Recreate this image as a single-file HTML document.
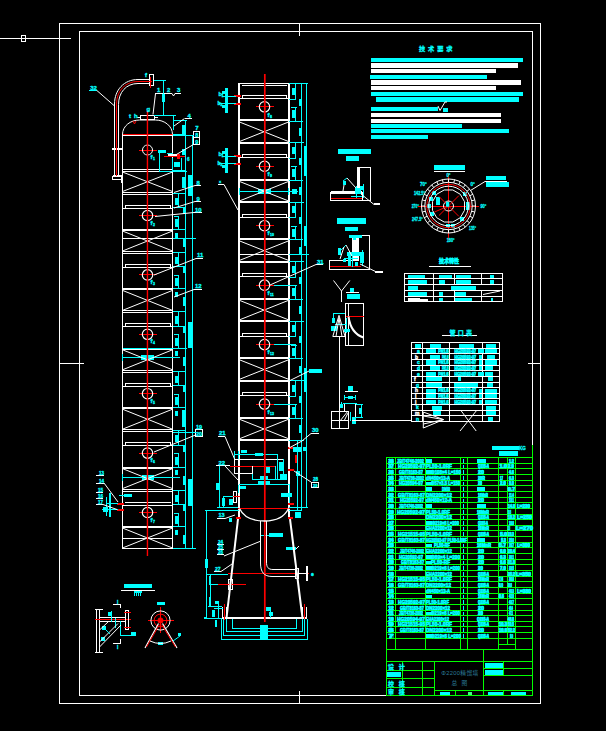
<!DOCTYPE html>
<html><head><meta charset="utf-8"><title>Φ2200精馏塔 总图</title>
<style>
html,body{margin:0;padding:0;background:#000;}
body{width:606px;height:731px;overflow:hidden;}
svg{display:block;font-family:"Liberation Sans","Noto Sans CJK SC",sans-serif;}
</style></head><body>
<svg width="606" height="731" viewBox="0 0 606 731">
<rect width="606" height="731" fill="#000"/>
<g shape-rendering="crispEdges" fill="none">
<rect x="59.5" y="23.5" width="481" height="680" fill="none" stroke="#ffffff" stroke-width="1"/>
<rect x="79.5" y="31.5" width="453" height="664" fill="none" stroke="#ffffff" stroke-width="1"/>
<path d="M299.5 23V36" stroke="#ffffff" stroke-width="1"/>
<path d="M299.5 691V704" stroke="#ffffff" stroke-width="1"/>
<path d="M59 363.5H84" stroke="#ffffff" stroke-width="1"/>
<path d="M528 363.5H541" stroke="#ffffff" stroke-width="1"/>
<path d="M0 38.5H71" stroke="#ffffff" stroke-width="1"/>
<rect x="21.5" y="35.5" width="4" height="6" fill="none" stroke="#ffffff" stroke-width="1"/>
<path d="M122.5 134V549" stroke="#ffffff" stroke-width="1"/>
<path d="M172.5 134V549" stroke="#ffffff" stroke-width="1"/>
<path d="M122.5 134.5H172.5" stroke="#ff0000" stroke-width="1"/>
<rect x="140.5" y="115.5" width="14" height="4" fill="none" stroke="#ffffff" stroke-width="1"/>
<path d="M137 117.5H140" stroke="#ffffff" stroke-width="1"/>
<path d="M155 117.5H158" stroke="#ffffff" stroke-width="1"/>
<path d="M138.5 150.5H156.5" stroke="#ff0000" stroke-width="1"/>
<path d="M122.5 169.5H172.5" stroke="#ffffff" stroke-width="1"/>
<path d="M122.5 171.5H172.5" stroke="#ffffff" stroke-width="1"/>
<path d="M122.5 135.5H172.5" stroke="#ffffff" stroke-width="1"/>
<path d="M122.5 192.5H172.5" stroke="#ffffff" stroke-width="1"/>
<path d="M123 194.5H172" stroke="#ffffff" stroke-width="1"/>
<path d="M124.5 205.5H170.5" stroke="#ffffff" stroke-width="1"/>
<path d="M125.5 205V208" stroke="#ffffff" stroke-width="1"/>
<path d="M170.5 205V208" stroke="#ffffff" stroke-width="1"/>
<path d="M122.5 208.5H172.5" stroke="#ffffff" stroke-width="1"/>
<path d="M138.5 215.5H156.5" stroke="#ff0000" stroke-width="1"/>
<path d="M122.5 230H172.5" stroke="#ffffff" stroke-width="2"/>
<path d="M122.5 251.5H172.5" stroke="#ffffff" stroke-width="1"/>
<path d="M123 253.5H172" stroke="#ffffff" stroke-width="1"/>
<path d="M124.5 264.5H170.5" stroke="#ffffff" stroke-width="1"/>
<path d="M125.5 264.4V267.4" stroke="#ffffff" stroke-width="1"/>
<path d="M170.5 264.4V267.4" stroke="#ffffff" stroke-width="1"/>
<path d="M122.5 267.5H172.5" stroke="#ffffff" stroke-width="1"/>
<path d="M138.5 274.5H156.5" stroke="#ff0000" stroke-width="1"/>
<path d="M122.5 289H172.5" stroke="#ffffff" stroke-width="2"/>
<path d="M122.5 310.5H172.5" stroke="#ffffff" stroke-width="1"/>
<path d="M123 312.5H172" stroke="#ffffff" stroke-width="1"/>
<path d="M124.5 323.5H170.5" stroke="#ffffff" stroke-width="1"/>
<path d="M125.5 323.8V326.8" stroke="#ffffff" stroke-width="1"/>
<path d="M170.5 323.8V326.8" stroke="#ffffff" stroke-width="1"/>
<path d="M122.5 326.5H172.5" stroke="#ffffff" stroke-width="1"/>
<path d="M138.5 334.5H156.5" stroke="#ff0000" stroke-width="1"/>
<path d="M122.5 349H172.5" stroke="#ffffff" stroke-width="2"/>
<path d="M122.5 370.5H172.5" stroke="#ffffff" stroke-width="1"/>
<path d="M123 372.5H172" stroke="#ffffff" stroke-width="1"/>
<path d="M124.5 383.5H170.5" stroke="#ffffff" stroke-width="1"/>
<path d="M125.5 383.2V386.2" stroke="#ffffff" stroke-width="1"/>
<path d="M170.5 383.2V386.2" stroke="#ffffff" stroke-width="1"/>
<path d="M122.5 386.5H172.5" stroke="#ffffff" stroke-width="1"/>
<path d="M138.5 393.5H156.5" stroke="#ff0000" stroke-width="1"/>
<path d="M122.5 408H172.5" stroke="#ffffff" stroke-width="2"/>
<path d="M122.5 429.5H172.5" stroke="#ffffff" stroke-width="1"/>
<path d="M123 431.5H172" stroke="#ffffff" stroke-width="1"/>
<path d="M124.5 442.5H170.5" stroke="#ffffff" stroke-width="1"/>
<path d="M125.5 442.6V445.6" stroke="#ffffff" stroke-width="1"/>
<path d="M170.5 442.6V445.6" stroke="#ffffff" stroke-width="1"/>
<path d="M122.5 445.5H172.5" stroke="#ffffff" stroke-width="1"/>
<path d="M138.5 453.5H156.5" stroke="#ff0000" stroke-width="1"/>
<path d="M122.5 468H172.5" stroke="#ffffff" stroke-width="2"/>
<path d="M122.5 489.5H172.5" stroke="#ffffff" stroke-width="1"/>
<path d="M123 491.5H172" stroke="#ffffff" stroke-width="1"/>
<path d="M124.5 502.5H170.5" stroke="#ffffff" stroke-width="1"/>
<path d="M122.5 505.5H172.5" stroke="#ffffff" stroke-width="1"/>
<path d="M138.5 512.5H156.5" stroke="#ff0000" stroke-width="1"/>
<path d="M122.5 526.5H172.5" stroke="#ffffff" stroke-width="1"/>
<path d="M122.5 527.5H172.5" stroke="#ffffff" stroke-width="1"/>
<path d="M122.5 538.5H172.5" stroke="#ffffff" stroke-width="1"/>
<path d="M122.5 548.5H172.5" stroke="#ffffff" stroke-width="1"/>
<path d="M122.5 238.5H172.5" stroke="#ffffff" stroke-width="1"/>
<rect x="149.5" y="74.5" width="4" height="11" fill="none" stroke="#ffffff" stroke-width="1"/>
<path d="M150.5 77V88" stroke="#ff0000" stroke-width="1"/>
<rect x="112.5" y="176.5" width="9" height="3" fill="none" stroke="#ffffff" stroke-width="1"/>
<path d="M113 175.5H121" stroke="#ffffff" stroke-width="1"/>
<path d="M122 175V183" stroke="#ffffff" stroke-width="2"/>
<path d="M112 149H123" stroke="#ffffff" stroke-width="2"/>
<path d="M167.5 155H179.5" stroke="#ffffff" stroke-width="1.5"/>
<path d="M164 156.5H186" stroke="#ff0000" stroke-width="1"/>
<rect x="177" y="153.6" width="3" height="5.1" fill="#ff0000"/>
<path d="M167 153.5H173" stroke="#00ffff" stroke-width="1"/>
<rect x="158" y="150" width="8" height="3" fill="#00ffff"/>
<path d="M172.5 158V172" stroke="#00ffff" stroke-width="1"/>
<path d="M181.5 158V172" stroke="#00ffff" stroke-width="1"/>
<rect x="173.5" y="162.3" width="6.5" height="4.7" fill="#00ffff"/>
<path d="M159 171.5H187" stroke="#00ffff" stroke-width="1"/>
<path d="M159.5 153V172" stroke="#00ffff" stroke-width="1"/>
<path d="M89 90.5H97" stroke="#00ffff" stroke-width="1"/>
<path d="M155 93.5H172" stroke="#ffffff" stroke-width="1"/>
<path d="M175 93.5H181" stroke="#ffffff" stroke-width="1"/>
<path d="M184.5 118.5H192" stroke="#ffffff" stroke-width="1"/>
<path d="M193 137.5H200" stroke="#ffffff" stroke-width="1"/>
<rect x="193.5" y="131.5" width="6" height="13" fill="none" stroke="#ffffff" stroke-width="1"/>
<path d="M195 185.5H201" stroke="#ffffff" stroke-width="1"/>
<path d="M195 201.5H201" stroke="#ffffff" stroke-width="1"/>
<path d="M194 212.5H202" stroke="#ffffff" stroke-width="1"/>
<path d="M196 258.5H203" stroke="#ffffff" stroke-width="1"/>
<path d="M194 289.5H202" stroke="#ffffff" stroke-width="1"/>
<rect x="195.5" y="429.5" width="7" height="7" fill="none" stroke="#ffffff" stroke-width="1"/>
<path d="M185.5 120V549" stroke="#00ffff" stroke-width="1"/>
<path d="M192.5 135V549" stroke="#00ffff" stroke-width="1"/>
<path d="M172.5 548.5H196" stroke="#00ffff" stroke-width="1"/>
<path d="M154 115.5H176" stroke="#00ffff" stroke-width="1"/>
<path d="M163.5 80V115" stroke="#00ffff" stroke-width="1"/>
<path d="M173 120.5H187" stroke="#00ffff" stroke-width="1"/>
<path d="M173 135.5H194" stroke="#00ffff" stroke-width="1"/>
<path d="M154 80.5H166" stroke="#00ffff" stroke-width="1"/>
<rect x="161.5" y="94" width="3" height="8" fill="#00ffff"/>
<path d="M173.5 115V130" stroke="#00ffff" stroke-width="1"/>
<path d="M172.5 134.5H186" stroke="#00ffff" stroke-width="1"/>
<path d="M172.5 170.5H186" stroke="#00ffff" stroke-width="1"/>
<path d="M172.5 193.5H186" stroke="#00ffff" stroke-width="1"/>
<path d="M172.5 207.5H186" stroke="#00ffff" stroke-width="1"/>
<path d="M172.5 229.5H186" stroke="#00ffff" stroke-width="1"/>
<path d="M172.5 252.5H186" stroke="#00ffff" stroke-width="1"/>
<path d="M172.5 266.5H186" stroke="#00ffff" stroke-width="1"/>
<path d="M172.5 288.5H186" stroke="#00ffff" stroke-width="1"/>
<path d="M172.5 311.5H186" stroke="#00ffff" stroke-width="1"/>
<path d="M172.5 326.5H186" stroke="#00ffff" stroke-width="1"/>
<path d="M172.5 348.5H186" stroke="#00ffff" stroke-width="1"/>
<path d="M172.5 371.5H186" stroke="#00ffff" stroke-width="1"/>
<path d="M172.5 385.5H186" stroke="#00ffff" stroke-width="1"/>
<path d="M172.5 407.5H186" stroke="#00ffff" stroke-width="1"/>
<path d="M172.5 430.5H186" stroke="#00ffff" stroke-width="1"/>
<path d="M172.5 445.5H186" stroke="#00ffff" stroke-width="1"/>
<path d="M172.5 467.5H186" stroke="#00ffff" stroke-width="1"/>
<path d="M172.5 490.5H186" stroke="#00ffff" stroke-width="1"/>
<path d="M172.5 504.5H186" stroke="#00ffff" stroke-width="1"/>
<path d="M172.5 526.5H186" stroke="#00ffff" stroke-width="1"/>
<rect x="175" y="197.5" width="3" height="7.2" fill="#00ffff"/>
<path d="M178.5 193V207.5" stroke="#00ffff" stroke-width="1"/>
<path d="M174 216.5H179" stroke="#00ffff" stroke-width="1"/>
<path d="M178.5 216V230" stroke="#00ffff" stroke-width="1"/>
<rect x="175" y="219" width="3" height="8" fill="#00ffff"/>
<rect x="175" y="232.5" width="3" height="5" fill="#00ffff"/>
<rect x="182.5" y="238" width="3" height="9" fill="#00ffff"/>
<rect x="182.5" y="208" width="3" height="6" fill="#00ffff"/>
<rect x="175" y="256.9" width="3" height="7.2" fill="#00ffff"/>
<path d="M178.5 252.4V266.9" stroke="#00ffff" stroke-width="1"/>
<path d="M174 275.5H179" stroke="#00ffff" stroke-width="1"/>
<path d="M178.5 275.4V289.4" stroke="#00ffff" stroke-width="1"/>
<rect x="175" y="278.4" width="3" height="8" fill="#00ffff"/>
<rect x="175" y="291.9" width="3" height="5" fill="#00ffff"/>
<rect x="182.5" y="297.4" width="3" height="9" fill="#00ffff"/>
<rect x="182.5" y="267.4" width="3" height="6" fill="#00ffff"/>
<rect x="175" y="316.3" width="3" height="7.2" fill="#00ffff"/>
<path d="M178.5 311.8V326.3" stroke="#00ffff" stroke-width="1"/>
<path d="M174 334.5H179" stroke="#00ffff" stroke-width="1"/>
<path d="M178.5 334.8V348.8" stroke="#00ffff" stroke-width="1"/>
<rect x="175" y="337.8" width="3" height="8" fill="#00ffff"/>
<rect x="175" y="351.3" width="3" height="5" fill="#00ffff"/>
<rect x="182.5" y="356.8" width="3" height="9" fill="#00ffff"/>
<rect x="182.5" y="326.8" width="3" height="6" fill="#00ffff"/>
<rect x="175" y="375.7" width="3" height="7.2" fill="#00ffff"/>
<path d="M178.5 371.2V385.7" stroke="#00ffff" stroke-width="1"/>
<path d="M174 394.5H179" stroke="#00ffff" stroke-width="1"/>
<path d="M178.5 394.2V408.2" stroke="#00ffff" stroke-width="1"/>
<rect x="175" y="397.2" width="3" height="8" fill="#00ffff"/>
<rect x="175" y="410.7" width="3" height="5" fill="#00ffff"/>
<rect x="182.5" y="416.2" width="3" height="9" fill="#00ffff"/>
<rect x="182.5" y="386.2" width="3" height="6" fill="#00ffff"/>
<rect x="175" y="435.1" width="3" height="7.2" fill="#00ffff"/>
<path d="M178.5 430.6V445.1" stroke="#00ffff" stroke-width="1"/>
<path d="M174 453.5H179" stroke="#00ffff" stroke-width="1"/>
<path d="M178.5 453.6V467.6" stroke="#00ffff" stroke-width="1"/>
<rect x="175" y="456.6" width="3" height="8" fill="#00ffff"/>
<rect x="175" y="470.1" width="3" height="5" fill="#00ffff"/>
<rect x="182.5" y="475.6" width="3" height="9" fill="#00ffff"/>
<rect x="182.5" y="445.6" width="3" height="6" fill="#00ffff"/>
<rect x="175" y="494.5" width="3" height="7.2" fill="#00ffff"/>
<path d="M178.5 490V504.5" stroke="#00ffff" stroke-width="1"/>
<path d="M174 513.5H179" stroke="#00ffff" stroke-width="1"/>
<path d="M178.5 513V527" stroke="#00ffff" stroke-width="1"/>
<rect x="175" y="516" width="3" height="8" fill="#00ffff"/>
<rect x="175" y="529.5" width="3" height="5" fill="#00ffff"/>
<rect x="182.5" y="535" width="3" height="9" fill="#00ffff"/>
<rect x="182.5" y="505" width="3" height="6" fill="#00ffff"/>
<rect x="182" y="125" width="3" height="9.6" fill="#00ffff"/>
<rect x="182" y="149" width="3" height="6" fill="#00ffff"/>
<rect x="182" y="177" width="3" height="11" fill="#00ffff"/>
<rect x="188" y="174.6" width="4" height="13.4" fill="#00ffff"/>
<rect x="188" y="186" width="4.5" height="9.5" fill="#00ffff"/>
<rect x="188" y="322" width="4.5" height="26" fill="#00ffff"/>
<rect x="188" y="479" width="4.5" height="27" fill="#00ffff"/>
<rect x="181.5" y="410" width="4" height="16.7" fill="#00ffff"/>
<path d="M172.5 432.5H196" stroke="#00ffff" stroke-width="1"/>
<path d="M172.5 238.5H196" stroke="#00ffff" stroke-width="1"/>
<path d="M122 357.5H180" stroke="#00ffff" stroke-width="1"/>
<rect x="141" y="354.5" width="13" height="5" fill="#00ffff"/>
<path d="M122.5 354V361" stroke="#00ffff" stroke-width="1"/>
<path d="M122 477.5H180" stroke="#00ffff" stroke-width="1"/>
<rect x="142" y="475" width="12" height="5" fill="#00ffff"/>
<path d="M122.5 474V481" stroke="#00ffff" stroke-width="1"/>
<path d="M122.5 348.5H187" stroke="#00ffff" stroke-width="1"/>
<path d="M117 504H124" stroke="#ff0000" stroke-width="2"/>
<path d="M117 510H124" stroke="#ff0000" stroke-width="2"/>
<path d="M96 483.5H104" stroke="#ffffff" stroke-width="1"/>
<path d="M96 475.5H104" stroke="#ffffff" stroke-width="1"/>
<path d="M96 492.5H103" stroke="#ffffff" stroke-width="1"/>
<path d="M96 498.5H103" stroke="#ffffff" stroke-width="1"/>
<path d="M96 504.5H103" stroke="#ffffff" stroke-width="1"/>
<rect x="108.5" y="493" width="2.5" height="24" fill="#00ffff"/>
<path d="M106 503.5H118" stroke="#00ffff" stroke-width="1"/>
<path d="M102 509.5H118" stroke="#00ffff" stroke-width="1"/>
<rect x="103" y="507" width="5" height="5" fill="#00ffff"/>
<path d="M119 495.5H131" stroke="#00ffff" stroke-width="1"/>
<rect x="124" y="493.5" width="7.5" height="3.5" fill="#00ffff"/>
<path d="M106.5 497V516" stroke="#00ffff" stroke-width="1"/>
<path d="M239 83V519" stroke="#ffffff" stroke-width="2"/>
<path d="M289 83V519" stroke="#ffffff" stroke-width="2"/>
<path d="M238.5 83.5H290" stroke="#ffffff" stroke-width="1"/>
<path d="M241.5 85.5H286.5" stroke="#ffffff" stroke-width="1"/>
<path d="M241.5 95.5H286.5" stroke="#ffffff" stroke-width="1"/>
<path d="M242.5 95.5V98.5" stroke="#ffffff" stroke-width="1"/>
<path d="M286.5 95.5V98.5" stroke="#ffffff" stroke-width="1"/>
<path d="M239.5 98.5H288.5" stroke="#ffffff" stroke-width="1"/>
<path d="M255.5 106.5H273.5" stroke="#ff0000" stroke-width="1"/>
<path d="M239.5 120H288.5" stroke="#ffffff" stroke-width="2"/>
<path d="M239.5 143H288.5" stroke="#ffffff" stroke-width="2"/>
<path d="M241.5 154.5H286.5" stroke="#ffffff" stroke-width="1"/>
<path d="M242.5 154.95V157.95" stroke="#ffffff" stroke-width="1"/>
<path d="M286.5 154.95V157.95" stroke="#ffffff" stroke-width="1"/>
<path d="M239.5 157.5H288.5" stroke="#ffffff" stroke-width="1"/>
<path d="M255.5 166.5H273.5" stroke="#ff0000" stroke-width="1"/>
<path d="M239.5 180H288.5" stroke="#ffffff" stroke-width="2"/>
<path d="M239.5 202H288.5" stroke="#ffffff" stroke-width="2"/>
<path d="M241.5 214.5H286.5" stroke="#ffffff" stroke-width="1"/>
<path d="M242.5 214.4V217.4" stroke="#ffffff" stroke-width="1"/>
<path d="M286.5 214.4V217.4" stroke="#ffffff" stroke-width="1"/>
<path d="M239.5 217.5H288.5" stroke="#ffffff" stroke-width="1"/>
<path d="M255.5 225.5H273.5" stroke="#ff0000" stroke-width="1"/>
<path d="M239.5 239H288.5" stroke="#ffffff" stroke-width="2"/>
<path d="M239.5 262H288.5" stroke="#ffffff" stroke-width="2"/>
<path d="M241.5 273.5H286.5" stroke="#ffffff" stroke-width="1"/>
<path d="M242.5 273.85V276.85" stroke="#ffffff" stroke-width="1"/>
<path d="M286.5 273.85V276.85" stroke="#ffffff" stroke-width="1"/>
<path d="M239.5 276.5H288.5" stroke="#ffffff" stroke-width="1"/>
<path d="M255.5 285.5H273.5" stroke="#ff0000" stroke-width="1"/>
<path d="M239.5 299H288.5" stroke="#ffffff" stroke-width="2"/>
<path d="M239.5 321H288.5" stroke="#ffffff" stroke-width="2"/>
<path d="M241.5 333.5H286.5" stroke="#ffffff" stroke-width="1"/>
<path d="M242.5 333.3V336.3" stroke="#ffffff" stroke-width="1"/>
<path d="M286.5 333.3V336.3" stroke="#ffffff" stroke-width="1"/>
<path d="M239.5 336.5H288.5" stroke="#ffffff" stroke-width="1"/>
<path d="M255.5 344.5H273.5" stroke="#ff0000" stroke-width="1"/>
<path d="M239.5 358H288.5" stroke="#ffffff" stroke-width="2"/>
<path d="M239.5 381H288.5" stroke="#ffffff" stroke-width="2"/>
<path d="M241.5 392.5H286.5" stroke="#ffffff" stroke-width="1"/>
<path d="M242.5 392.75V395.75" stroke="#ffffff" stroke-width="1"/>
<path d="M286.5 392.75V395.75" stroke="#ffffff" stroke-width="1"/>
<path d="M239.5 395.5H288.5" stroke="#ffffff" stroke-width="1"/>
<path d="M255.5 404.5H273.5" stroke="#ff0000" stroke-width="1"/>
<path d="M239.5 418H288.5" stroke="#ffffff" stroke-width="2"/>
<path d="M239.5 440H288.5" stroke="#ffffff" stroke-width="2"/>
<path d="M239.5 254.5H288.5" stroke="#ffffff" stroke-width="1"/>
<path d="M234 96H241" stroke="#ff0000" stroke-width="2"/>
<path d="M234 104H241" stroke="#ff0000" stroke-width="2"/>
<path d="M234 156H241" stroke="#ff0000" stroke-width="2"/>
<path d="M234 164H241" stroke="#ff0000" stroke-width="2"/>
<rect x="225" y="88" width="3" height="25" fill="#00ffff"/>
<path d="M222 96.5H236" stroke="#00ffff" stroke-width="1"/>
<path d="M219 103.5H236" stroke="#00ffff" stroke-width="1"/>
<rect x="221.5" y="91" width="3.5" height="3" fill="#00ffff"/>
<rect x="221.5" y="105" width="3.5" height="3" fill="#00ffff"/>
<rect x="225" y="148" width="3" height="25" fill="#00ffff"/>
<path d="M222 156.5H236" stroke="#00ffff" stroke-width="1"/>
<path d="M219 163.5H236" stroke="#00ffff" stroke-width="1"/>
<rect x="221.5" y="151" width="3.5" height="3" fill="#00ffff"/>
<rect x="221.5" y="165" width="3.5" height="3" fill="#00ffff"/>
<path d="M218 184.5H224" stroke="#ffffff" stroke-width="1"/>
<path d="M301.5 83V510" stroke="#00ffff" stroke-width="1"/>
<path d="M306.5 83V508" stroke="#00ffff" stroke-width="1"/>
<path d="M289 507.5H308" stroke="#00ffff" stroke-width="1"/>
<path d="M288.5 83.5H308" stroke="#00ffff" stroke-width="1"/>
<path d="M288.5 83.5H304" stroke="#00ffff" stroke-width="1"/>
<path d="M288.5 99.5H296" stroke="#00ffff" stroke-width="1"/>
<path d="M288.5 121.5H303" stroke="#00ffff" stroke-width="1"/>
<path d="M291 107.5H297" stroke="#00ffff" stroke-width="1"/>
<rect x="292" y="87.5" width="2.6" height="7" fill="#00ffff"/>
<path d="M295.5 83.5V99" stroke="#00ffff" stroke-width="1"/>
<rect x="292" y="110" width="2.6" height="8" fill="#00ffff"/>
<path d="M295.5 107.5V121" stroke="#00ffff" stroke-width="1"/>
<rect x="299" y="98.5" width="2.5" height="7" fill="#00ffff"/>
<rect x="299" y="128" width="2.5" height="7.5" fill="#00ffff"/>
<path d="M288.5 142.5H304" stroke="#00ffff" stroke-width="1"/>
<path d="M288.5 158.5H296" stroke="#00ffff" stroke-width="1"/>
<path d="M288.5 180.5H303" stroke="#00ffff" stroke-width="1"/>
<path d="M291 166.5H297" stroke="#00ffff" stroke-width="1"/>
<rect x="292" y="146.95" width="2.6" height="7" fill="#00ffff"/>
<path d="M295.5 142.95V158.45" stroke="#00ffff" stroke-width="1"/>
<rect x="292" y="169.45" width="2.6" height="8" fill="#00ffff"/>
<path d="M295.5 166.95V180.45" stroke="#00ffff" stroke-width="1"/>
<rect x="299" y="157.95" width="2.5" height="7" fill="#00ffff"/>
<rect x="299" y="187.45" width="2.5" height="7.5" fill="#00ffff"/>
<path d="M288.5 202.5H304" stroke="#00ffff" stroke-width="1"/>
<path d="M288.5 217.5H296" stroke="#00ffff" stroke-width="1"/>
<path d="M288.5 239.5H303" stroke="#00ffff" stroke-width="1"/>
<path d="M291 226.5H297" stroke="#00ffff" stroke-width="1"/>
<rect x="292" y="206.4" width="2.6" height="7" fill="#00ffff"/>
<path d="M295.5 202.4V217.9" stroke="#00ffff" stroke-width="1"/>
<rect x="292" y="228.9" width="2.6" height="8" fill="#00ffff"/>
<path d="M295.5 226.4V239.9" stroke="#00ffff" stroke-width="1"/>
<rect x="299" y="217.4" width="2.5" height="7" fill="#00ffff"/>
<rect x="299" y="246.9" width="2.5" height="7.5" fill="#00ffff"/>
<path d="M288.5 261.5H304" stroke="#00ffff" stroke-width="1"/>
<path d="M288.5 277.5H296" stroke="#00ffff" stroke-width="1"/>
<path d="M288.5 299.5H303" stroke="#00ffff" stroke-width="1"/>
<path d="M291 285.5H297" stroke="#00ffff" stroke-width="1"/>
<rect x="292" y="265.85" width="2.6" height="7" fill="#00ffff"/>
<path d="M295.5 261.85V277.35" stroke="#00ffff" stroke-width="1"/>
<rect x="292" y="288.35" width="2.6" height="8" fill="#00ffff"/>
<path d="M295.5 285.85V299.35" stroke="#00ffff" stroke-width="1"/>
<rect x="299" y="276.85" width="2.5" height="7" fill="#00ffff"/>
<rect x="299" y="306.35" width="2.5" height="7.5" fill="#00ffff"/>
<path d="M288.5 321.5H304" stroke="#00ffff" stroke-width="1"/>
<path d="M288.5 336.5H296" stroke="#00ffff" stroke-width="1"/>
<path d="M288.5 358.5H303" stroke="#00ffff" stroke-width="1"/>
<path d="M291 345.5H297" stroke="#00ffff" stroke-width="1"/>
<rect x="292" y="325.3" width="2.6" height="7" fill="#00ffff"/>
<path d="M295.5 321.3V336.8" stroke="#00ffff" stroke-width="1"/>
<rect x="292" y="347.8" width="2.6" height="8" fill="#00ffff"/>
<path d="M295.5 345.3V358.8" stroke="#00ffff" stroke-width="1"/>
<rect x="299" y="336.3" width="2.5" height="7" fill="#00ffff"/>
<rect x="299" y="365.8" width="2.5" height="7.5" fill="#00ffff"/>
<path d="M288.5 380.5H304" stroke="#00ffff" stroke-width="1"/>
<path d="M288.5 396.5H296" stroke="#00ffff" stroke-width="1"/>
<path d="M288.5 418.5H303" stroke="#00ffff" stroke-width="1"/>
<path d="M291 404.5H297" stroke="#00ffff" stroke-width="1"/>
<rect x="292" y="384.75" width="2.6" height="7" fill="#00ffff"/>
<path d="M295.5 380.75V396.25" stroke="#00ffff" stroke-width="1"/>
<rect x="292" y="407.25" width="2.6" height="8" fill="#00ffff"/>
<path d="M295.5 404.75V418.25" stroke="#00ffff" stroke-width="1"/>
<rect x="299" y="395.75" width="2.5" height="7" fill="#00ffff"/>
<rect x="299" y="425.25" width="2.5" height="7.5" fill="#00ffff"/>
<path d="M288.5 440.5H304" stroke="#00ffff" stroke-width="1"/>
<path d="M288.5 254.5H309" stroke="#00ffff" stroke-width="1"/>
<path d="M273.5 285.5H296" stroke="#00ffff" stroke-width="1"/>
<path d="M273.5 344.5H296" stroke="#00ffff" stroke-width="1"/>
<path d="M273.5 404.5H296" stroke="#00ffff" stroke-width="1"/>
<rect x="303.5" y="368" width="3" height="23.5" fill="#00ffff"/>
<path d="M239 191.5H298" stroke="#00ffff" stroke-width="1"/>
<rect x="258" y="189" width="13" height="4.5" fill="#00ffff"/>
<rect x="292" y="189" width="5" height="4.5" fill="#00ffff"/>
<path d="M239.5 188V195" stroke="#00ffff" stroke-width="1"/>
<path d="M288.5 188V195" stroke="#00ffff" stroke-width="1"/>
<rect x="303.5" y="146" width="3.5" height="30" fill="#00ffff"/>
<rect x="303.5" y="226" width="3.5" height="20" fill="#00ffff"/>
<rect x="309" y="368.5" width="13" height="4" fill="#00ffff"/>
<path d="M316 264.5H323" stroke="#ffffff" stroke-width="1"/>
<path d="M311 433.5H319" stroke="#ffffff" stroke-width="1"/>
<path d="M218 436.5H225" stroke="#ffffff" stroke-width="1"/>
<path d="M216 465.5H230" stroke="#ffffff" stroke-width="1"/>
<path d="M238 508.5H290" stroke="#ff0000" stroke-width="1"/>
<path d="M235 454.5H278" stroke="#00ffff" stroke-width="1"/>
<rect x="255" y="452.5" width="8" height="3" fill="#00ffff"/>
<rect x="240.5" y="450" width="6" height="3.3" fill="#00ffff"/>
<path d="M234.5 451V460" stroke="#00ffff" stroke-width="1"/>
<path d="M238.5 451V460" stroke="#00ffff" stroke-width="1"/>
<path d="M235 459.5H284" stroke="#ffffff" stroke-width="1"/>
<path d="M234.5 459V474" stroke="#ffffff" stroke-width="1"/>
<path d="M230 466.5H275" stroke="#ff0000" stroke-width="1"/>
<path d="M235 473.5H252" stroke="#ffffff" stroke-width="1"/>
<path d="M252.5 466V474" stroke="#ffffff" stroke-width="1"/>
<path d="M252.5 474V480" stroke="#00ffff" stroke-width="1"/>
<path d="M252 479.5H287" stroke="#00ffff" stroke-width="1"/>
<rect x="260" y="476" width="7.7" height="3.2" fill="#00ffff"/>
<path d="M277.5 455V480" stroke="#00ffff" stroke-width="1"/>
<path d="M275.5 466V480" stroke="#00ffff" stroke-width="1"/>
<path d="M283.5 459V480" stroke="#00ffff" stroke-width="1"/>
<rect x="266" y="467.4" width="4" height="5.6" fill="#00ffff"/>
<rect x="278.7" y="462" width="3.9" height="8.6" fill="#00ffff"/>
<rect x="280" y="473.7" width="6.5" height="5.5" fill="#00ffff"/>
<path d="M239 484.5H290" stroke="#00ffff" stroke-width="1"/>
<rect x="258.3" y="481.2" width="11.7" height="3.2" fill="#00ffff"/>
<path d="M219.5 466V508" stroke="#00ffff" stroke-width="1"/>
<rect x="216.3" y="483" width="2.7" height="7" fill="#00ffff"/>
<path d="M217 507.5H238" stroke="#00ffff" stroke-width="1"/>
<rect x="233.5" y="491.5" width="3" height="11" fill="none" stroke="#ffffff" stroke-width="1"/>
<path d="M233 496.5H240" stroke="#ff0000" stroke-width="1"/>
<path d="M224 496.5H233" stroke="#00ffff" stroke-width="1"/>
<path d="M223.5 496V508" stroke="#00ffff" stroke-width="1"/>
<rect x="222" y="498" width="3" height="7.8" fill="#00ffff"/>
<rect x="229.3" y="498.8" width="3.5" height="6.2" fill="#00ffff"/>
<path d="M238.5 485V493" stroke="#00ffff" stroke-width="1"/>
<rect x="240.3" y="486" width="5.7" height="3.4" fill="#00ffff"/>
<path d="M205 510.5H239" stroke="#00ffff" stroke-width="1"/>
<path d="M288 448H294" stroke="#ff0000" stroke-width="2"/>
<path d="M288 470H294" stroke="#ff0000" stroke-width="2"/>
<path d="M288 504H294" stroke="#ff0000" stroke-width="2"/>
<rect x="295.4" y="455" width="2.4" height="7.5" fill="#ff0000"/>
<rect x="293" y="447" width="8" height="5" fill="#00ffff"/>
<rect x="303" y="447" width="4" height="4" fill="#00ffff"/>
<path d="M297.5 441V510" stroke="#00ffff" stroke-width="1"/>
<path d="M289 510.5H302" stroke="#00ffff" stroke-width="1"/>
<rect x="296" y="471" width="4" height="5" fill="#00ffff"/>
<rect x="281" y="493.3" width="11" height="3.9" fill="#00ffff"/>
<path d="M289.5 485V503" stroke="#00ffff" stroke-width="1"/>
<rect x="295" y="512" width="6" height="6" fill="#00ffff"/>
<rect x="311.5" y="482.5" width="7" height="5" fill="none" stroke="#ffffff" stroke-width="1"/>
<path d="M236 518H241" stroke="#ff0000" stroke-width="2"/>
<path d="M288 518H293" stroke="#ff0000" stroke-width="2"/>
<path d="M222 618H307" stroke="#ffffff" stroke-width="2"/>
<path d="M222.5 607V618" stroke="#ffffff" stroke-width="1"/>
<path d="M226.5 607V618" stroke="#ffffff" stroke-width="1"/>
<path d="M302.5 607V618" stroke="#ffffff" stroke-width="1"/>
<path d="M306.5 607V618" stroke="#ffffff" stroke-width="1"/>
<path d="M224.5 604V620" stroke="#ff0000" stroke-width="1"/>
<path d="M304.5 604V620" stroke="#ff0000" stroke-width="1"/>
<path d="M228 573.5H309" stroke="#ff0000" stroke-width="1"/>
<rect x="295.5" y="568.5" width="3" height="10" fill="none" stroke="#ffffff" stroke-width="1"/>
<rect x="305.5" y="566" width="2.5" height="15" fill="#ffffff"/>
<path d="M298 573.5H306" stroke="#ffffff" stroke-width="1"/>
<rect x="228.5" y="579.5" width="4" height="10" fill="none" stroke="#ffffff" stroke-width="1"/>
<path d="M218 584.5H246" stroke="#ff0000" stroke-width="1"/>
<path d="M209 584.5H218" stroke="#00ffff" stroke-width="1"/>
<path d="M217 518.5H225" stroke="#ffffff" stroke-width="1"/>
<path d="M217 544.5H224" stroke="#ffffff" stroke-width="1"/>
<path d="M217 549.5H224" stroke="#ffffff" stroke-width="1"/>
<path d="M217 554.5H224" stroke="#ffffff" stroke-width="1"/>
<path d="M214 571.5H221" stroke="#ffffff" stroke-width="1"/>
<path d="M206.5 510V619" stroke="#00ffff" stroke-width="1"/>
<path d="M205 510.5H238" stroke="#00ffff" stroke-width="1"/>
<path d="M205 618.5H222" stroke="#00ffff" stroke-width="1"/>
<rect x="204.5" y="559" width="3.5" height="9" fill="#00ffff"/>
<path d="M210.5 574V606" stroke="#00ffff" stroke-width="1"/>
<path d="M206 574.5H228" stroke="#00ffff" stroke-width="1"/>
<rect x="208.5" y="576" width="2.5" height="8" fill="#00ffff"/>
<rect x="208.5" y="597" width="2.5" height="9" fill="#00ffff"/>
<path d="M208 606.5H222" stroke="#00ffff" stroke-width="1"/>
<rect x="229.3" y="518.4" width="3.1" height="3.9" fill="#00ffff"/>
<path d="M261 535.5H270" stroke="#00ffff" stroke-width="1"/>
<rect x="269" y="532.5" width="14" height="4" fill="#00ffff"/>
<rect x="286" y="547" width="10" height="3" fill="#00ffff"/>
<path d="M221.5 619V628" stroke="#00ffff" stroke-width="1"/>
<path d="M223.5 619V628" stroke="#00ffff" stroke-width="1"/>
<path d="M226.5 619V628" stroke="#00ffff" stroke-width="1"/>
<path d="M232.5 619V628" stroke="#00ffff" stroke-width="1"/>
<path d="M296.5 619V628" stroke="#00ffff" stroke-width="1"/>
<path d="M302.5 619V628" stroke="#00ffff" stroke-width="1"/>
<path d="M304.5 619V628" stroke="#00ffff" stroke-width="1"/>
<path d="M307.5 619V628" stroke="#00ffff" stroke-width="1"/>
<path d="M232.5 619V628" stroke="#00ffff" stroke-width="1"/>
<path d="M296.5 619V628" stroke="#00ffff" stroke-width="1"/>
<path d="M232 628.5H297" stroke="#00ffff" stroke-width="1"/>
<path d="M226.5 619V632" stroke="#00ffff" stroke-width="1"/>
<path d="M302.5 619V632" stroke="#00ffff" stroke-width="1"/>
<path d="M226 631.5H303" stroke="#00ffff" stroke-width="1"/>
<path d="M223.5 619V635" stroke="#00ffff" stroke-width="1"/>
<path d="M304.5 619V635" stroke="#00ffff" stroke-width="1"/>
<path d="M223 635.5H305" stroke="#00ffff" stroke-width="1"/>
<path d="M221.5 619V639" stroke="#00ffff" stroke-width="1"/>
<path d="M307.5 619V639" stroke="#00ffff" stroke-width="1"/>
<path d="M221 639.5H308" stroke="#00ffff" stroke-width="1"/>
<rect x="260" y="624.5" width="8" height="14" fill="#00ffff"/>
<rect x="266" y="607" width="5" height="4" fill="#00ffff"/>
<path d="M270.5 607V618" stroke="#00ffff" stroke-width="1"/>
<rect x="269" y="612" width="4" height="4" fill="#00ffff"/>
<rect x="214.8" y="601" width="4" height="2.6" fill="#00ffff"/>
<path d="M218.5 603V618" stroke="#00ffff" stroke-width="1"/>
<path d="M213.5 608.5H223" stroke="#00ffff" stroke-width="1"/>
<rect x="212" y="609.5" width="2.8" height="7.3" fill="#00ffff"/>
<rect x="214.8" y="620" width="2" height="6.7" fill="#00ffff"/>
<rect x="124" y="584" width="28" height="3.8" fill="#00ffff"/>
<path d="M121 590.5H155" stroke="#ffffff" stroke-width="1"/>
<rect x="134" y="591" width="8" height="2" fill="#00ffff"/>
<path d="M134.5 593V596" stroke="#00ffff" stroke-width="1.2"/>
<path d="M136.5 593V596" stroke="#00ffff" stroke-width="1.2"/>
<path d="M138.5 593V596" stroke="#00ffff" stroke-width="1.2"/>
<path d="M140.5 593V596" stroke="#00ffff" stroke-width="1.2"/>
<path d="M96.5 609V653" stroke="#ffffff" stroke-width="1"/>
<path d="M99.5 609V653" stroke="#ffffff" stroke-width="1"/>
<path d="M95 609.5H103" stroke="#ffffff" stroke-width="1"/>
<path d="M95 652.5H103" stroke="#ffffff" stroke-width="1"/>
<path d="M99 617.5H126" stroke="#ffffff" stroke-width="1"/>
<path d="M99 621.5H126" stroke="#ffffff" stroke-width="1"/>
<path d="M95 619.5H131" stroke="#ff0000" stroke-width="1"/>
<rect x="125.5" y="610.5" width="3" height="19" fill="none" stroke="#ffffff" stroke-width="1"/>
<path d="M124 612.5H131" stroke="#ff0000" stroke-width="1"/>
<path d="M124 627.5H131" stroke="#ff0000" stroke-width="1"/>
<path d="M120.5 621V636" stroke="#00ffff" stroke-width="1"/>
<path d="M120 635.5H132" stroke="#00ffff" stroke-width="1"/>
<rect x="131" y="632" width="5" height="4" fill="#00ffff"/>
<path d="M111.5 611V622" stroke="#00ffff" stroke-width="1"/>
<rect x="108" y="612" width="3" height="4" fill="#00ffff"/>
<rect x="102" y="626" width="4" height="4" fill="#00ffff"/>
<rect x="101" y="637" width="4" height="4" fill="#00ffff"/>
<path d="M115.5 618V628" stroke="#00ffff" stroke-width="1"/>
<path d="M113 604.5H121" stroke="#ffffff" stroke-width="1"/>
<path d="M120.5 604V608" stroke="#ffffff" stroke-width="1"/>
<path d="M113 643.5H121" stroke="#ffffff" stroke-width="1"/>
<path d="M120.5 639V644" stroke="#ffffff" stroke-width="1"/>
<path d="M148 620.5H174" stroke="#ff0000" stroke-width="1"/>
<path d="M160.5 607V633" stroke="#ff0000" stroke-width="1"/>
<rect x="157.4" y="601.6" width="7.6" height="3.4" fill="#00ffff"/>
<rect x="158" y="642" width="5" height="2.5" fill="#00ffff"/>
<rect x="178" y="633" width="3" height="3" fill="#00ffff"/>
<rect x="204" y="617" width="2" height="2" fill="#00ffff"/>
<rect x="371" y="58" width="152" height="4" fill="#00ffff"/>
<rect x="371" y="63.3" width="147" height="4.4" fill="#ffffff"/>
<rect x="371" y="69.2" width="125" height="3.8" fill="#ffffff"/>
<rect x="370" y="74.8" width="117" height="4.2" fill="#00ffff"/>
<rect x="371" y="80.2" width="150" height="4.4" fill="#ffffff"/>
<rect x="371" y="86" width="125" height="4" fill="#ffffff"/>
<rect x="371" y="92" width="152" height="4" fill="#00ffff"/>
<rect x="376" y="97.2" width="143" height="4.3" fill="#00ffff"/>
<rect x="371" y="107" width="67" height="3.8" fill="#00ffff"/>
<rect x="371" y="112.8" width="130" height="4.5" fill="#ffffff"/>
<rect x="371" y="118.5" width="130" height="4.5" fill="#ffffff"/>
<rect x="371" y="123.9" width="91" height="3.9" fill="#00ffff"/>
<rect x="371" y="129.2" width="138" height="4" fill="#00ffff"/>
<rect x="371" y="134.9" width="57" height="3.9" fill="#00ffff"/>
<rect x="443" y="107.8" width="5" height="3.8" fill="#00ffff"/>
<rect x="338" y="148.8" width="33" height="4.9" fill="#00ffff"/>
<rect x="346" y="156" width="13" height="5" fill="#00ffff"/>
<rect x="356.5" y="167" width="3.3" height="25" fill="#ffffff"/>
<path d="M359.5 167.5L370.5 167.5L370.5 200.5L362 200.5" stroke="#ffffff" stroke-width="1" fill="none"/>
<rect x="330.5" y="191.3" width="31.5" height="2.5" fill="#ffffff"/>
<path d="M330.5 192L330.5 200.5L362 200.5L362 192" stroke="#ffffff" stroke-width="1" fill="none"/>
<path d="M331 198.5H362" stroke="#ff0000" stroke-width="1"/>
<path d="M374 204H380" stroke="#ffffff" stroke-width="2"/>
<rect x="343" y="181" width="3" height="4" fill="#00ffff"/>
<rect x="355" y="188" width="6" height="6" fill="#00ffff"/>
<rect x="360" y="186" width="4" height="4" fill="#00ffff"/>
<path d="M363.5 184V198" stroke="#00ffff" stroke-width="1"/>
<path d="M351 196.5H362" stroke="#00ffff" stroke-width="1"/>
<path d="M356.5 186V198" stroke="#00ffff" stroke-width="1"/>
<rect x="337" y="218" width="28.5" height="5.5" fill="#00ffff"/>
<rect x="345" y="227.2" width="13" height="3.6" fill="#00ffff"/>
<rect x="351.5" y="235.4" width="7.3" height="25.6" fill="#ffffff"/>
<path d="M358.5 235.5L369.5 235.5L369.5 269.5L361 269.5" stroke="#ffffff" stroke-width="1" fill="none"/>
<path d="M329.5 260.5L329.5 269.5L361 269.5" stroke="#ffffff" stroke-width="1" fill="none"/>
<path d="M329 260.5H352" stroke="#ffffff" stroke-width="1"/>
<path d="M330 266.5H361" stroke="#ff0000" stroke-width="1"/>
<path d="M375 272H383" stroke="#ffffff" stroke-width="2"/>
<rect x="349" y="235" width="13" height="2.5" fill="#00ffff"/>
<rect x="353" y="238" width="3" height="2" fill="#00ffff"/>
<rect x="338" y="248" width="3" height="7" fill="#00ffff"/>
<rect x="347" y="252" width="17" height="3.5" fill="#00ffff"/>
<rect x="360" y="256" width="4" height="7" fill="#00ffff"/>
<rect x="348" y="256" width="3" height="10" fill="#00ffff"/>
<path d="M352.5 255V267" stroke="#00ffff" stroke-width="1"/>
<path d="M344 258.5H358" stroke="#00ffff" stroke-width="1"/>
<rect x="355" y="262" width="3" height="4" fill="#00ffff"/>
<path d="M362.5 250V266" stroke="#00ffff" stroke-width="1"/>
<rect x="343" y="259" width="3" height="3" fill="#00ffff"/>
<path d="M341.5 291V302" stroke="#ffffff" stroke-width="1"/>
<rect x="350.2" y="288" width="3.5" height="3.5" fill="#00ffff"/>
<path d="M346 292.5H359" stroke="#ffffff" stroke-width="1"/>
<rect x="347.4" y="294" width="12.6" height="4.6" fill="#00ffff"/>
<rect x="345.5" y="303.5" width="18" height="42" fill="none" stroke="#ffffff" stroke-width="1"/>
<path d="M348.5 303V346" stroke="#ffffff" stroke-width="1"/>
<path d="M346 316.5H364" stroke="#ff0000" stroke-width="1"/>
<path d="M339.5 336V412" stroke="#ffffff" stroke-width="1"/>
<rect x="332" y="318" width="3" height="5" fill="#00ffff"/>
<rect x="331" y="326" width="6" height="5" fill="#00ffff"/>
<path d="M333 313.5H345" stroke="#00ffff" stroke-width="1"/>
<path d="M333.5 313V320" stroke="#00ffff" stroke-width="1"/>
<path d="M335 324.5H347" stroke="#00ffff" stroke-width="1"/>
<rect x="344" y="329" width="6" height="3" fill="#00ffff"/>
<path d="M346.5 318V333" stroke="#00ffff" stroke-width="1"/>
<rect x="348" y="386.3" width="4.5" height="4.2" fill="#00ffff"/>
<path d="M345 391.5H358" stroke="#ffffff" stroke-width="1"/>
<path d="M344 397.5H356" stroke="#00ffff" stroke-width="1"/>
<path d="M344.5 395V400" stroke="#00ffff" stroke-width="1"/>
<path d="M355.5 395V400" stroke="#00ffff" stroke-width="1"/>
<rect x="348" y="395.5" width="5" height="3" fill="#00ffff"/>
<path d="M344.5 404V412" stroke="#ffffff" stroke-width="1"/>
<path d="M355.5 404V418" stroke="#ffffff" stroke-width="1"/>
<path d="M343 403.5H357" stroke="#00ffff" stroke-width="1"/>
<path d="M341.5 402V408" stroke="#00ffff" stroke-width="1"/>
<rect x="340" y="404" width="3" height="4" fill="#00ffff"/>
<path d="M361.5 404V418" stroke="#00ffff" stroke-width="1"/>
<path d="M356 404.5H363" stroke="#00ffff" stroke-width="1"/>
<path d="M352 417.5H363" stroke="#00ffff" stroke-width="1"/>
<rect x="358.5" y="408" width="3.5" height="6" fill="#00ffff"/>
<rect x="352" y="418" width="4" height="6" fill="#00ffff"/>
<path d="M350.5 412V421" stroke="#00ffff" stroke-width="1"/>
<rect x="331.5" y="411.5" width="17" height="17" fill="none" stroke="#ffffff" stroke-width="1"/>
<path d="M331 420.5H349" stroke="#ffffff" stroke-width="1"/>
<path d="M339.5 411V429" stroke="#ffffff" stroke-width="1"/>
<path d="M352 420.5H412" stroke="#ffffff" stroke-width="1"/>
<rect x="434" y="165.3" width="31" height="4.4" fill="#00ffff"/>
<path d="M434 171.5H465" stroke="#ffffff" stroke-width="1"/>
<path d="M418 206.5H479" stroke="#ff0000" stroke-width="1"/>
<path d="M448.5 172.5V240" stroke="#ff0000" stroke-width="1"/>
<rect x="432" y="190.8" width="4" height="4" fill="#00ffff"/>
<rect x="435.5" y="197" width="4" height="4" fill="#00ffff"/>
<rect x="428.6" y="197" width="4" height="4" fill="#00ffff"/>
<rect x="427.4" y="204" width="4" height="4" fill="#00ffff"/>
<rect x="430.3" y="212" width="4" height="4" fill="#00ffff"/>
<rect x="435.5" y="201" width="4" height="4" fill="#00ffff"/>
<rect x="462.7" y="192" width="4" height="4" fill="#00ffff"/>
<rect x="465.6" y="201.8" width="4" height="4" fill="#00ffff"/>
<rect x="466" y="206" width="4" height="4" fill="#00ffff"/>
<rect x="459.8" y="217.4" width="4" height="4" fill="#00ffff"/>
<rect x="446" y="223.7" width="4" height="4" fill="#00ffff"/>
<rect x="450.5" y="223.7" width="4" height="4" fill="#00ffff"/>
<path d="M485 181.5H507" stroke="#ffffff" stroke-width="1"/>
<rect x="486" y="176" width="20" height="4.3" fill="#00ffff"/>
<rect x="486" y="182" width="22.7" height="4.8" fill="#00ffff"/>
<path d="M429 266.5H471" stroke="#ffffff" stroke-width="1"/>
<rect x="404.5" y="273.5" width="98" height="28" fill="none" stroke="#ffffff" stroke-width="1"/>
<path d="M404 278.5H503" stroke="#ffffff" stroke-width="1"/>
<path d="M404 284.5H503" stroke="#ffffff" stroke-width="1"/>
<path d="M404 290.5H503" stroke="#ffffff" stroke-width="1"/>
<path d="M404 296.5H503" stroke="#ffffff" stroke-width="1"/>
<path d="M433.5 273V302" stroke="#ffffff" stroke-width="1"/>
<path d="M454.5 273V285" stroke="#ffffff" stroke-width="1"/>
<path d="M454.5 290V302" stroke="#ffffff" stroke-width="1"/>
<path d="M481.5 273V285" stroke="#ffffff" stroke-width="1"/>
<path d="M481.5 290V302" stroke="#ffffff" stroke-width="1"/>
<rect x="407.9" y="274.7" width="16.8" height="3.5" fill="#00ffff"/>
<rect x="438.6" y="274.7" width="13.8" height="3.5" fill="#00ffff"/>
<rect x="456.4" y="274.7" width="14.8" height="3.5" fill="#00ffff"/>
<rect x="489.7" y="274.7" width="4.3" height="3.5" fill="#00ffff"/>
<rect x="407.9" y="279.7" width="18.8" height="4.5" fill="#00ffff"/>
<rect x="439" y="279.7" width="5.5" height="4.5" fill="#00ffff"/>
<rect x="456.4" y="279.7" width="14.8" height="4.5" fill="#00ffff"/>
<rect x="489.7" y="279.7" width="4.3" height="4.5" fill="#00ffff"/>
<rect x="407.9" y="285.7" width="9.9" height="4.5" fill="#00ffff"/>
<rect x="451.4" y="285.7" width="24.8" height="4.5" fill="#00ffff"/>
<rect x="407.9" y="291.7" width="18.8" height="4.5" fill="#00ffff"/>
<rect x="439" y="291.7" width="3.5" height="4.5" fill="#00ffff"/>
<rect x="455.4" y="291.7" width="10.9" height="4.5" fill="#00ffff"/>
<rect x="439" y="297.7" width="3.5" height="3.5" fill="#00ffff"/>
<rect x="455.4" y="297.7" width="16.4" height="3.5" fill="#00ffff"/>
<rect x="490.6" y="297.7" width="2" height="3.5" fill="#00ffff"/>
<rect x="407.9" y="297.6" width="11.9" height="3.4" fill="#ffffff"/>
<rect x="420" y="298.5" width="8" height="2.5" fill="#ffffff"/>
<path d="M442 335.5H477" stroke="#ffffff" stroke-width="1"/>
<path d="M411 342.5H500" stroke="#ffffff" stroke-width="1"/>
<path d="M411 348.5H500" stroke="#ffffff" stroke-width="1"/>
<path d="M411 353.5H500" stroke="#ffffff" stroke-width="1"/>
<path d="M411 359.5H500" stroke="#ffffff" stroke-width="1"/>
<path d="M411 365.5H500" stroke="#ffffff" stroke-width="1"/>
<path d="M411 370.5H500" stroke="#ffffff" stroke-width="1"/>
<path d="M411 376.5H500" stroke="#ffffff" stroke-width="1"/>
<path d="M411 382.5H500" stroke="#ffffff" stroke-width="1"/>
<path d="M411 387.5H500" stroke="#ffffff" stroke-width="1"/>
<path d="M411 393.5H500" stroke="#ffffff" stroke-width="1"/>
<path d="M411 398.5H500" stroke="#ffffff" stroke-width="1"/>
<path d="M411 404.5H500" stroke="#ffffff" stroke-width="1"/>
<path d="M411 410.5H500" stroke="#ffffff" stroke-width="1"/>
<path d="M411 415.5H500" stroke="#ffffff" stroke-width="1"/>
<path d="M411 421.5H500" stroke="#ffffff" stroke-width="1"/>
<path d="M411.5 342V422" stroke="#ffffff" stroke-width="1"/>
<path d="M422.5 342V422" stroke="#ffffff" stroke-width="1"/>
<path d="M449.5 342V422" stroke="#ffffff" stroke-width="1"/>
<path d="M482.5 342V422" stroke="#ffffff" stroke-width="1"/>
<path d="M499.5 342V422" stroke="#ffffff" stroke-width="1"/>
<rect x="414.8" y="343.5" width="5.9" height="4.05" fill="#00ffff"/>
<rect x="430" y="343.5" width="11" height="4.05" fill="#00ffff"/>
<rect x="459" y="343.5" width="15" height="4.05" fill="#00ffff"/>
<rect x="486" y="343.5" width="10" height="4.05" fill="#00ffff"/>
<rect x="426.3" y="349.15" width="10" height="4.05" fill="#00ffff"/>
<rect x="438.3" y="349.1" width="10.2" height="3.7" fill="#00ffff" fill-opacity="0.25"/>
<rect x="454.4" y="349.1" width="21.8" height="3.7" fill="#00ffff" fill-opacity="0.25"/>
<rect x="478.2" y="349.15" width="5.3" height="4.05" fill="#00ffff"/>
<rect x="485" y="349.15" width="12" height="4.05" fill="#00ffff"/>
<rect x="430" y="354.8" width="10" height="4.05" fill="#00ffff"/>
<rect x="442" y="354.75" width="6.5" height="3.7" fill="#00ffff" fill-opacity="0.25"/>
<rect x="454.4" y="354.75" width="21.8" height="3.7" fill="#00ffff" fill-opacity="0.25"/>
<rect x="479" y="354.8" width="3" height="4.05" fill="#00ffff"/>
<rect x="487" y="354.8" width="8" height="4.05" fill="#00ffff"/>
<rect x="426.3" y="360.45" width="10" height="4.05" fill="#00ffff"/>
<rect x="438.3" y="360.4" width="10.2" height="3.7" fill="#00ffff" fill-opacity="0.25"/>
<rect x="454.4" y="360.4" width="21.8" height="3.7" fill="#00ffff" fill-opacity="0.25"/>
<rect x="479" y="360.45" width="3" height="4.05" fill="#00ffff"/>
<rect x="485" y="360.45" width="12" height="4.05" fill="#00ffff"/>
<rect x="430" y="366.1" width="10" height="4.05" fill="#00ffff"/>
<rect x="442" y="366.05" width="6.5" height="3.7" fill="#00ffff" fill-opacity="0.25"/>
<rect x="454.4" y="366.05" width="21.8" height="3.7" fill="#00ffff" fill-opacity="0.25"/>
<rect x="479" y="366.1" width="3" height="4.05" fill="#00ffff"/>
<rect x="485" y="366.1" width="8" height="4.05" fill="#00ffff"/>
<rect x="426.3" y="371.75" width="10" height="4.05" fill="#00ffff"/>
<rect x="438.3" y="371.7" width="10.2" height="3.7" fill="#00ffff" fill-opacity="0.25"/>
<rect x="454.4" y="371.7" width="21.8" height="3.7" fill="#00ffff" fill-opacity="0.25"/>
<rect x="478.2" y="371.75" width="5.3" height="4.05" fill="#00ffff"/>
<rect x="485" y="371.75" width="8" height="4.05" fill="#00ffff"/>
<rect x="426.3" y="377.4" width="15.7" height="4.05" fill="#00ffff"/>
<rect x="458" y="377.4" width="3" height="4.05" fill="#00ffff"/>
<rect x="488" y="377.4" width="5" height="4.05" fill="#00ffff"/>
<rect x="426.3" y="383.05" width="15.7" height="4.05" fill="#00ffff"/>
<rect x="454.4" y="383.05" width="23.6" height="4.05" fill="#00ffff"/>
<rect x="487" y="383.05" width="6" height="4.05" fill="#00ffff"/>
<rect x="426.3" y="388.7" width="10" height="4.05" fill="#00ffff"/>
<rect x="438.3" y="388.65" width="10.2" height="3.7" fill="#00ffff" fill-opacity="0.25"/>
<rect x="454.4" y="388.65" width="21.8" height="3.7" fill="#00ffff" fill-opacity="0.25"/>
<rect x="479" y="388.7" width="3" height="4.05" fill="#00ffff"/>
<rect x="485" y="388.7" width="12" height="4.05" fill="#00ffff"/>
<rect x="426.3" y="394.35" width="10" height="4.05" fill="#00ffff"/>
<rect x="438.3" y="394.3" width="10.2" height="3.7" fill="#00ffff" fill-opacity="0.25"/>
<rect x="454.4" y="394.3" width="21.8" height="3.7" fill="#00ffff" fill-opacity="0.25"/>
<rect x="479" y="394.35" width="3" height="4.05" fill="#00ffff"/>
<rect x="485" y="394.35" width="12" height="4.05" fill="#00ffff"/>
<rect x="426.3" y="400" width="10" height="4.05" fill="#00ffff"/>
<rect x="438.3" y="399.95" width="10.2" height="3.7" fill="#00ffff" fill-opacity="0.25"/>
<rect x="454.4" y="399.95" width="21.8" height="3.7" fill="#00ffff" fill-opacity="0.25"/>
<rect x="479" y="400" width="3" height="4.05" fill="#00ffff"/>
<rect x="485" y="400" width="12" height="4.05" fill="#00ffff"/>
<rect x="432" y="405.65" width="10" height="4.05" fill="#00ffff"/>
<rect x="486" y="405.65" width="10" height="4.05" fill="#00ffff"/>
<rect x="433" y="411.3" width="8" height="4.05" fill="#00ffff"/>
<rect x="486" y="411.3" width="10" height="4.05" fill="#00ffff"/>
<rect x="488" y="416.95" width="5" height="4.05" fill="#00ffff"/>
<path d="M386 457.5H533" stroke="#00ff00" stroke-width="1"/>
<path d="M386 463.5H533" stroke="#00ff00" stroke-width="1"/>
<path d="M386 468.5H533" stroke="#00ff00" stroke-width="1"/>
<path d="M386 474.5H533" stroke="#00ff00" stroke-width="1"/>
<path d="M386 480.5H533" stroke="#00ff00" stroke-width="1"/>
<path d="M386 485.5H533" stroke="#00ff00" stroke-width="1"/>
<path d="M386 491.5H533" stroke="#00ff00" stroke-width="1"/>
<path d="M386 497.5H533" stroke="#00ff00" stroke-width="1"/>
<path d="M386 502.5H533" stroke="#00ff00" stroke-width="1"/>
<path d="M386 508.5H533" stroke="#00ff00" stroke-width="1"/>
<path d="M386 514.5H533" stroke="#00ff00" stroke-width="1"/>
<path d="M386 519.5H533" stroke="#00ff00" stroke-width="1"/>
<path d="M386 525.5H533" stroke="#00ff00" stroke-width="1"/>
<path d="M386 530.5H533" stroke="#00ff00" stroke-width="1"/>
<path d="M386 536.5H533" stroke="#00ff00" stroke-width="1"/>
<path d="M386 542.5H533" stroke="#00ff00" stroke-width="1"/>
<path d="M386 547.5H533" stroke="#00ff00" stroke-width="1"/>
<path d="M386 553.5H533" stroke="#00ff00" stroke-width="1"/>
<path d="M386 559.5H533" stroke="#00ff00" stroke-width="1"/>
<path d="M386 564.5H533" stroke="#00ff00" stroke-width="1"/>
<path d="M386 570.5H533" stroke="#00ff00" stroke-width="1"/>
<path d="M386 576.5H533" stroke="#00ff00" stroke-width="1"/>
<path d="M386 581.5H533" stroke="#00ff00" stroke-width="1"/>
<path d="M386 587.5H533" stroke="#00ff00" stroke-width="1"/>
<path d="M386 593.5H533" stroke="#00ff00" stroke-width="1"/>
<path d="M386 598.5H533" stroke="#00ff00" stroke-width="1"/>
<path d="M386 604.5H533" stroke="#00ff00" stroke-width="1"/>
<path d="M386 610.5H533" stroke="#00ff00" stroke-width="1"/>
<path d="M386 615.5H533" stroke="#00ff00" stroke-width="1"/>
<path d="M386 621.5H533" stroke="#00ff00" stroke-width="1"/>
<path d="M386 626.5H533" stroke="#00ff00" stroke-width="1"/>
<path d="M386 632.5H533" stroke="#00ff00" stroke-width="1"/>
<path d="M386 638.5H533" stroke="#00ff00" stroke-width="1"/>
<path d="M386.5 457V696" stroke="#00ff00" stroke-width="1"/>
<path d="M532.5 445V696" stroke="#00ff00" stroke-width="1"/>
<path d="M395.5 457V649.5" stroke="#00ff00" stroke-width="1"/>
<path d="M425.5 457V649.5" stroke="#00ff00" stroke-width="1"/>
<path d="M460.5 457V649.5" stroke="#00ff00" stroke-width="1"/>
<path d="M467.5 457V649.5" stroke="#00ff00" stroke-width="1"/>
<path d="M498.5 457V649.5" stroke="#00ff00" stroke-width="1"/>
<path d="M507.5 457V649.5" stroke="#00ff00" stroke-width="1"/>
<path d="M515.5 457V649.5" stroke="#00ff00" stroke-width="1"/>
<path d="M386 649.5H533" stroke="#00ff00" stroke-width="1"/>
<path d="M498 644.5H516" stroke="#00ff00" stroke-width="1"/>
<rect x="507" y="645" width="1" height="4" fill="#000"/>
<path d="M386 661.5H533" stroke="#00ff00" stroke-width="1"/>
<path d="M483.5 649V696" stroke="#00ff00" stroke-width="1"/>
<path d="M402.5 661V696" stroke="#00ff00" stroke-width="1"/>
<path d="M422.5 661V696" stroke="#00ff00" stroke-width="1"/>
<path d="M434.5 661V696" stroke="#00ff00" stroke-width="1"/>
<path d="M386 670.5H435" stroke="#00ff00" stroke-width="1"/>
<path d="M386 678.5H435" stroke="#00ff00" stroke-width="1"/>
<path d="M386 687.5H435" stroke="#00ff00" stroke-width="1"/>
<path d="M434 690.5H484" stroke="#00ff00" stroke-width="1"/>
<path d="M455.5 690V696" stroke="#00ff00" stroke-width="1"/>
<path d="M483 668.5H533" stroke="#00ff00" stroke-width="1"/>
<path d="M483 675.5H533" stroke="#00ff00" stroke-width="1"/>
<path d="M503.5 661V676" stroke="#00ff00" stroke-width="1"/>
<path d="M483 690.5H533" stroke="#00ff00" stroke-width="1"/>
<path d="M503.5 690V696" stroke="#00ff00" stroke-width="1"/>
<path d="M386 695.5H533" stroke="#00ff00" stroke-width="1"/>
<rect x="387" y="672" width="14" height="5" fill="#00ffff"/>
<rect x="484.5" y="663" width="18.5" height="4.8" fill="#00ffff"/>
<rect x="484.5" y="670" width="18.5" height="5" fill="#00ffff"/>
<rect x="440" y="692" width="10" height="3" fill="#00ffff"/>
<rect x="467.5" y="692" width="4" height="3" fill="#40ff80"/>
<rect x="488" y="692" width="14.5" height="3" fill="#00ffff"/>
<rect x="511" y="692" width="14.7" height="3" fill="#00ffff"/>
<rect x="492" y="446" width="27" height="4" fill="#00ffff"/>
<rect x="499" y="451.3" width="19" height="4.7" fill="#00ffff"/>
<rect x="388.5" y="458.9" width="5" height="3.6" fill="#00ffff" fill-opacity="0.25"/>
<rect x="388.5" y="458.9" width="5" height="3.6" fill="#00ffff" fill-opacity="0.25"/>
<rect x="397" y="458.9" width="27" height="3.6" fill="#00ffff" fill-opacity="0.25"/>
<rect x="426" y="458.5" width="5.5" height="4" fill="#00ffff"/>
<path d="M463.5 458.5V462.5" stroke="#00ffff" stroke-width="1.2"/>
<rect x="476.5" y="458.5" width="9.5" height="4" fill="#00ffff"/>
<rect x="509" y="458.9" width="5" height="3.6" fill="#00ffff" fill-opacity="0.4"/>
<rect x="388.5" y="463.9" width="5" height="3.6" fill="#00ffff" fill-opacity="0.25"/>
<rect x="388.5" y="463.9" width="5" height="3.6" fill="#00ffff" fill-opacity="0.25"/>
<rect x="398" y="463.9" width="27" height="3.6" fill="#00ffff" fill-opacity="0.25"/>
<rect x="426" y="463.9" width="26" height="3.6" fill="#00ffff" fill-opacity="0.25"/>
<path d="M463.5 464.5V467.5" stroke="#00ffff" stroke-width="1.2"/>
<rect x="478" y="463.9" width="11" height="3.6" fill="#00ffff" fill-opacity="0.4"/>
<rect x="499.5" y="463.9" width="7.5" height="3.6" fill="#00ffff" fill-opacity="0.4"/>
<rect x="508" y="463.9" width="6" height="3.6" fill="#00ffff" fill-opacity="0.4"/>
<rect x="388.5" y="469.9" width="5" height="3.6" fill="#00ffff" fill-opacity="0.25"/>
<rect x="388.5" y="469.9" width="5" height="3.6" fill="#00ffff" fill-opacity="0.25"/>
<rect x="399" y="469.9" width="24" height="3.6" fill="#00ffff" fill-opacity="0.25"/>
<rect x="426" y="469.5" width="5.5" height="4" fill="#00ffff"/>
<rect x="431" y="469.9" width="30" height="3.6" fill="#00ffff" fill-opacity="0.25"/>
<path d="M463.5 469.5V473.5" stroke="#00ffff" stroke-width="1.2"/>
<rect x="478" y="469.9" width="6" height="3.6" fill="#00ffff" fill-opacity="0.4"/>
<rect x="509" y="469.9" width="5" height="3.6" fill="#00ffff" fill-opacity="0.4"/>
<rect x="388.5" y="475.9" width="5" height="3.6" fill="#00ffff" fill-opacity="0.25"/>
<rect x="388.5" y="475.9" width="5" height="3.6" fill="#00ffff" fill-opacity="0.25"/>
<rect x="399" y="475.9" width="25" height="3.6" fill="#00ffff" fill-opacity="0.25"/>
<rect x="426" y="475.9" width="24" height="3.6" fill="#00ffff" fill-opacity="0.25"/>
<path d="M463.5 475.5V479.5" stroke="#00ffff" stroke-width="1.2"/>
<rect x="478" y="475.9" width="7" height="3.6" fill="#00ffff" fill-opacity="0.4"/>
<rect x="500" y="475.9" width="3" height="3.6" fill="#00ffff" fill-opacity="0.4"/>
<rect x="509" y="475.9" width="5" height="3.6" fill="#00ffff" fill-opacity="0.4"/>
<rect x="388.5" y="480.9" width="5" height="3.6" fill="#00ffff" fill-opacity="0.25"/>
<rect x="388.5" y="480.9" width="5" height="3.6" fill="#00ffff" fill-opacity="0.25"/>
<rect x="399" y="480.9" width="24" height="3.6" fill="#00ffff" fill-opacity="0.25"/>
<rect x="426" y="481.5" width="5.5" height="3" fill="#00ffff"/>
<rect x="431" y="480.9" width="29" height="3.6" fill="#00ffff" fill-opacity="0.25"/>
<path d="M463.5 481.5V484.5" stroke="#00ffff" stroke-width="1.2"/>
<rect x="478" y="480.9" width="4" height="3.6" fill="#00ffff" fill-opacity="0.4"/>
<rect x="500" y="480.9" width="6" height="3.6" fill="#00ffff" fill-opacity="0.4"/>
<rect x="509" y="480.9" width="5" height="3.6" fill="#00ffff" fill-opacity="0.4"/>
<rect x="388.5" y="486.9" width="5" height="3.6" fill="#00ffff" fill-opacity="0.25"/>
<rect x="388.5" y="486.9" width="5" height="3.6" fill="#00ffff" fill-opacity="0.25"/>
<rect x="426" y="486.5" width="5.5" height="4" fill="#00ffff"/>
<rect x="442" y="486.9" width="8" height="3.6" fill="#00ffff" fill-opacity="0.25"/>
<path d="M463.5 486.5V490.5" stroke="#00ffff" stroke-width="1.2"/>
<rect x="476.5" y="486.5" width="8.5" height="4" fill="#00ffff"/>
<rect x="508" y="486.9" width="7" height="3.6" fill="#00ffff" fill-opacity="0.4"/>
<rect x="388.5" y="492.9" width="5" height="3.6" fill="#00ffff" fill-opacity="0.25"/>
<rect x="388.5" y="492.9" width="5" height="3.6" fill="#00ffff" fill-opacity="0.25"/>
<rect x="398" y="492.9" width="27" height="3.6" fill="#00ffff" fill-opacity="0.25"/>
<rect x="426" y="492.9" width="26" height="3.6" fill="#00ffff" fill-opacity="0.25"/>
<path d="M463.5 492.5V496.5" stroke="#00ffff" stroke-width="1.2"/>
<rect x="478" y="492.9" width="10" height="3.6" fill="#00ffff" fill-opacity="0.4"/>
<rect x="509" y="492.9" width="5" height="3.6" fill="#00ffff" fill-opacity="0.4"/>
<rect x="388.5" y="497.9" width="5" height="3.6" fill="#00ffff" fill-opacity="0.25"/>
<rect x="388.5" y="497.9" width="5" height="3.6" fill="#00ffff" fill-opacity="0.25"/>
<rect x="400" y="497.9" width="24" height="3.6" fill="#00ffff" fill-opacity="0.25"/>
<rect x="426" y="497.9" width="26" height="3.6" fill="#00ffff" fill-opacity="0.25"/>
<path d="M463.5 498.5V501.5" stroke="#00ffff" stroke-width="1.2"/>
<rect x="478" y="497.9" width="6" height="3.6" fill="#00ffff" fill-opacity="0.4"/>
<rect x="509" y="497.9" width="5" height="3.6" fill="#00ffff" fill-opacity="0.4"/>
<rect x="388.5" y="503.9" width="5" height="3.6" fill="#00ffff" fill-opacity="0.25"/>
<rect x="388.5" y="503.9" width="5" height="3.6" fill="#00ffff" fill-opacity="0.25"/>
<rect x="399" y="503.9" width="24" height="3.6" fill="#00ffff" fill-opacity="0.25"/>
<rect x="426" y="503.5" width="5.5" height="4" fill="#00ffff"/>
<path d="M463.5 503.5V507.5" stroke="#00ffff" stroke-width="1.2"/>
<rect x="476.5" y="503.5" width="9.5" height="4" fill="#00ffff"/>
<rect x="508" y="503.9" width="7" height="3.6" fill="#00ffff" fill-opacity="0.4"/>
<rect x="517" y="503.9" width="13" height="3.6" fill="#00ffff" fill-opacity="0.4"/>
<rect x="388.5" y="509.9" width="5" height="3.6" fill="#00ffff" fill-opacity="0.25"/>
<rect x="388.5" y="509.9" width="5" height="3.6" fill="#00ffff" fill-opacity="0.25"/>
<rect x="397" y="509.9" width="28" height="3.6" fill="#00ffff" fill-opacity="0.25"/>
<rect x="426" y="509.9" width="24" height="3.6" fill="#00ffff" fill-opacity="0.25"/>
<path d="M463.5 509.5V513.5" stroke="#00ffff" stroke-width="1.2"/>
<rect x="477" y="509.9" width="12" height="3.6" fill="#00ffff" fill-opacity="0.4"/>
<rect x="508" y="509.9" width="3" height="3.6" fill="#00ffff" fill-opacity="0.4"/>
<rect x="388.5" y="514.9" width="5" height="3.6" fill="#00ffff" fill-opacity="0.25"/>
<rect x="388.5" y="514.9" width="5" height="3.6" fill="#00ffff" fill-opacity="0.25"/>
<rect x="426" y="514.9" width="26" height="3.6" fill="#00ffff" fill-opacity="0.25"/>
<path d="M463.5 515.5V518.5" stroke="#00ffff" stroke-width="1.2"/>
<rect x="478" y="514.9" width="11" height="3.6" fill="#00ffff" fill-opacity="0.4"/>
<rect x="508" y="514.9" width="7" height="3.6" fill="#00ffff" fill-opacity="0.4"/>
<rect x="517" y="514.9" width="15" height="3.6" fill="#00ffff" fill-opacity="0.4"/>
<rect x="388.5" y="520.9" width="5" height="3.6" fill="#00ffff" fill-opacity="0.25"/>
<rect x="388.5" y="520.9" width="5" height="3.6" fill="#00ffff" fill-opacity="0.25"/>
<rect x="426" y="520.5" width="5.5" height="4" fill="#00ffff"/>
<rect x="432" y="520.9" width="27" height="3.6" fill="#00ffff" fill-opacity="0.25"/>
<path d="M463.5 520.5V524.5" stroke="#00ffff" stroke-width="1.2"/>
<rect x="478" y="520.9" width="10" height="3.6" fill="#00ffff" fill-opacity="0.4"/>
<rect x="509" y="520.9" width="5" height="3.6" fill="#00ffff" fill-opacity="0.4"/>
<rect x="388.5" y="525.9" width="5" height="3.6" fill="#00ffff" fill-opacity="0.25"/>
<rect x="388.5" y="525.9" width="5" height="3.6" fill="#00ffff" fill-opacity="0.25"/>
<rect x="426" y="525.9" width="26" height="3.6" fill="#00ffff" fill-opacity="0.25"/>
<path d="M463.5 526.5V529.5" stroke="#00ffff" stroke-width="1.2"/>
<rect x="478" y="525.9" width="11" height="3.6" fill="#00ffff" fill-opacity="0.4"/>
<rect x="508" y="525.9" width="2" height="3.6" fill="#00ffff" fill-opacity="0.4"/>
<rect x="516" y="525.9" width="17" height="3.6" fill="#00ffff" fill-opacity="0.4"/>
<rect x="388.5" y="531.9" width="5" height="3.6" fill="#00ffff" fill-opacity="0.25"/>
<rect x="388.5" y="531.9" width="5" height="3.6" fill="#00ffff" fill-opacity="0.25"/>
<rect x="398" y="531.9" width="27" height="3.6" fill="#00ffff" fill-opacity="0.25"/>
<rect x="426" y="531.9" width="26" height="3.6" fill="#00ffff" fill-opacity="0.25"/>
<path d="M463.5 531.5V535.5" stroke="#00ffff" stroke-width="1.2"/>
<rect x="478" y="531.9" width="11" height="3.6" fill="#00ffff" fill-opacity="0.4"/>
<rect x="500" y="531.9" width="7" height="3.6" fill="#00ffff" fill-opacity="0.4"/>
<rect x="508" y="531.9" width="6" height="3.6" fill="#00ffff" fill-opacity="0.4"/>
<rect x="388.5" y="537.9" width="5" height="3.6" fill="#00ffff" fill-opacity="0.25"/>
<rect x="388.5" y="537.9" width="5" height="3.6" fill="#00ffff" fill-opacity="0.25"/>
<rect x="398" y="537.9" width="27" height="3.6" fill="#00ffff" fill-opacity="0.25"/>
<rect x="426" y="537.9" width="41" height="3.6" fill="#00ffff" fill-opacity="0.25"/>
<path d="M463.5 537.5V541.5" stroke="#00ffff" stroke-width="1.2"/>
<rect x="476.5" y="537.5" width="8.5" height="4" fill="#00ffff"/>
<rect x="501" y="537.9" width="5" height="3.6" fill="#00ffff" fill-opacity="0.4"/>
<rect x="509" y="537.9" width="5" height="3.6" fill="#00ffff" fill-opacity="0.4"/>
<rect x="388.5" y="542.9" width="5" height="3.6" fill="#00ffff" fill-opacity="0.25"/>
<rect x="388.5" y="542.9" width="5" height="3.6" fill="#00ffff" fill-opacity="0.25"/>
<rect x="426" y="543.5" width="5.5" height="3" fill="#00ffff"/>
<rect x="434" y="542.9" width="16" height="3.6" fill="#00ffff" fill-opacity="0.25"/>
<path d="M463.5 543.5V546.5" stroke="#00ffff" stroke-width="1.2"/>
<rect x="477" y="542.9" width="14" height="3.6" fill="#00ffff" fill-opacity="0.4"/>
<rect x="499" y="542.9" width="7" height="3.6" fill="#00ffff" fill-opacity="0.4"/>
<rect x="509" y="542.9" width="5" height="3.6" fill="#00ffff" fill-opacity="0.4"/>
<rect x="517" y="542.9" width="13" height="3.6" fill="#00ffff" fill-opacity="0.4"/>
<rect x="388.5" y="548.9" width="5" height="3.6" fill="#00ffff" fill-opacity="0.25"/>
<rect x="388.5" y="548.9" width="5" height="3.6" fill="#00ffff" fill-opacity="0.25"/>
<rect x="400" y="548.9" width="24" height="3.6" fill="#00ffff" fill-opacity="0.25"/>
<rect x="426" y="548.9" width="26" height="3.6" fill="#00ffff" fill-opacity="0.25"/>
<path d="M463.5 548.5V552.5" stroke="#00ffff" stroke-width="1.2"/>
<rect x="478" y="548.9" width="6" height="3.6" fill="#00ffff" fill-opacity="0.4"/>
<rect x="500" y="548.9" width="6" height="3.6" fill="#00ffff" fill-opacity="0.4"/>
<rect x="508" y="548.9" width="7" height="3.6" fill="#00ffff" fill-opacity="0.4"/>
<rect x="388.5" y="554.9" width="5" height="3.6" fill="#00ffff" fill-opacity="0.25"/>
<rect x="388.5" y="554.9" width="5" height="3.6" fill="#00ffff" fill-opacity="0.25"/>
<rect x="399" y="554.9" width="24" height="3.6" fill="#00ffff" fill-opacity="0.25"/>
<rect x="426" y="554.5" width="5.5" height="4" fill="#00ffff"/>
<rect x="431" y="554.9" width="29" height="3.6" fill="#00ffff" fill-opacity="0.25"/>
<path d="M463.5 554.5V558.5" stroke="#00ffff" stroke-width="1.2"/>
<rect x="478" y="554.9" width="6" height="3.6" fill="#00ffff" fill-opacity="0.4"/>
<rect x="500" y="554.9" width="6" height="3.6" fill="#00ffff" fill-opacity="0.4"/>
<rect x="509" y="554.9" width="5" height="3.6" fill="#00ffff" fill-opacity="0.4"/>
<rect x="388.5" y="559.9" width="5" height="3.6" fill="#00ffff" fill-opacity="0.25"/>
<rect x="388.5" y="559.9" width="5" height="3.6" fill="#00ffff" fill-opacity="0.25"/>
<rect x="401" y="559.9" width="23" height="3.6" fill="#00ffff" fill-opacity="0.25"/>
<rect x="426" y="560.5" width="5.5" height="3" fill="#00ffff"/>
<rect x="431" y="559.9" width="19" height="3.6" fill="#00ffff" fill-opacity="0.25"/>
<path d="M463.5 560.5V563.5" stroke="#00ffff" stroke-width="1.2"/>
<rect x="478" y="559.9" width="6" height="3.6" fill="#00ffff" fill-opacity="0.4"/>
<rect x="500" y="559.9" width="6" height="3.6" fill="#00ffff" fill-opacity="0.4"/>
<rect x="508" y="559.9" width="7" height="3.6" fill="#00ffff" fill-opacity="0.4"/>
<rect x="388.5" y="565.9" width="5" height="3.6" fill="#00ffff" fill-opacity="0.25"/>
<rect x="388.5" y="565.9" width="5" height="3.6" fill="#00ffff" fill-opacity="0.25"/>
<rect x="399" y="565.9" width="24" height="3.6" fill="#00ffff" fill-opacity="0.25"/>
<rect x="426" y="565.5" width="5.5" height="4" fill="#00ffff"/>
<rect x="431" y="565.9" width="29" height="3.6" fill="#00ffff" fill-opacity="0.25"/>
<path d="M463.5 565.5V569.5" stroke="#00ffff" stroke-width="1.2"/>
<rect x="478" y="565.9" width="5" height="3.6" fill="#00ffff" fill-opacity="0.4"/>
<rect x="500" y="565.9" width="6" height="3.6" fill="#00ffff" fill-opacity="0.4"/>
<rect x="509" y="565.9" width="5" height="3.6" fill="#00ffff" fill-opacity="0.4"/>
<rect x="388.5" y="571.9" width="5" height="3.6" fill="#00ffff" fill-opacity="0.25"/>
<rect x="388.5" y="571.9" width="5" height="3.6" fill="#00ffff" fill-opacity="0.25"/>
<rect x="426" y="571.9" width="26" height="3.6" fill="#00ffff" fill-opacity="0.25"/>
<path d="M463.5 571.5V575.5" stroke="#00ffff" stroke-width="1.2"/>
<rect x="478" y="571.9" width="11" height="3.6" fill="#00ffff" fill-opacity="0.4"/>
<rect x="508" y="571.9" width="7" height="3.6" fill="#00ffff" fill-opacity="0.4"/>
<rect x="516" y="571.9" width="15" height="3.6" fill="#00ffff" fill-opacity="0.4"/>
<rect x="388.5" y="576.9" width="5" height="3.6" fill="#00ffff" fill-opacity="0.25"/>
<rect x="388.5" y="576.9" width="5" height="3.6" fill="#00ffff" fill-opacity="0.25"/>
<rect x="398" y="576.9" width="27" height="3.6" fill="#00ffff" fill-opacity="0.25"/>
<rect x="426" y="576.9" width="26" height="3.6" fill="#00ffff" fill-opacity="0.25"/>
<path d="M463.5 577.5V580.5" stroke="#00ffff" stroke-width="1.2"/>
<rect x="478" y="576.9" width="11" height="3.6" fill="#00ffff" fill-opacity="0.4"/>
<rect x="499" y="576.9" width="4" height="3.6" fill="#00ffff" fill-opacity="0.4"/>
<rect x="509" y="576.9" width="5" height="3.6" fill="#00ffff" fill-opacity="0.4"/>
<rect x="388.5" y="582.9" width="5" height="3.6" fill="#00ffff" fill-opacity="0.25"/>
<rect x="388.5" y="582.9" width="5" height="3.6" fill="#00ffff" fill-opacity="0.25"/>
<rect x="398" y="582.9" width="27" height="3.6" fill="#00ffff" fill-opacity="0.25"/>
<rect x="426" y="582.9" width="25" height="3.6" fill="#00ffff" fill-opacity="0.25"/>
<path d="M463.5 582.5V586.5" stroke="#00ffff" stroke-width="1.2"/>
<rect x="478" y="582.9" width="11" height="3.6" fill="#00ffff" fill-opacity="0.4"/>
<rect x="499" y="582.9" width="4" height="3.6" fill="#00ffff" fill-opacity="0.4"/>
<rect x="508" y="582.9" width="4" height="3.6" fill="#00ffff" fill-opacity="0.4"/>
<rect x="388.5" y="588.9" width="5" height="3.6" fill="#00ffff" fill-opacity="0.25"/>
<rect x="388.5" y="588.9" width="5" height="3.6" fill="#00ffff" fill-opacity="0.25"/>
<rect x="426" y="588.9" width="24" height="3.6" fill="#00ffff" fill-opacity="0.25"/>
<path d="M463.5 588.5V592.5" stroke="#00ffff" stroke-width="1.2"/>
<rect x="478" y="588.9" width="11" height="3.6" fill="#00ffff" fill-opacity="0.4"/>
<rect x="509" y="588.9" width="5" height="3.6" fill="#00ffff" fill-opacity="0.4"/>
<rect x="517" y="588.9" width="14" height="3.6" fill="#00ffff" fill-opacity="0.4"/>
<rect x="388.5" y="593.9" width="5" height="3.6" fill="#00ffff" fill-opacity="0.25"/>
<rect x="388.5" y="593.9" width="5" height="3.6" fill="#00ffff" fill-opacity="0.25"/>
<rect x="426" y="594.5" width="5.5" height="3" fill="#00ffff"/>
<path d="M463.5 594.5V597.5" stroke="#00ffff" stroke-width="1.2"/>
<rect x="478" y="593.9" width="11" height="3.6" fill="#00ffff" fill-opacity="0.4"/>
<rect x="499" y="593.9" width="5" height="3.6" fill="#00ffff" fill-opacity="0.4"/>
<rect x="509" y="593.9" width="5" height="3.6" fill="#00ffff" fill-opacity="0.4"/>
<rect x="388.5" y="599.9" width="5" height="3.6" fill="#00ffff" fill-opacity="0.25"/>
<rect x="388.5" y="599.9" width="5" height="3.6" fill="#00ffff" fill-opacity="0.25"/>
<rect x="398" y="599.9" width="27" height="3.6" fill="#00ffff" fill-opacity="0.25"/>
<rect x="426" y="599.9" width="23" height="3.6" fill="#00ffff" fill-opacity="0.25"/>
<path d="M463.5 599.5V603.5" stroke="#00ffff" stroke-width="1.2"/>
<rect x="478" y="599.9" width="11" height="3.6" fill="#00ffff" fill-opacity="0.4"/>
<rect x="509" y="599.9" width="5" height="3.6" fill="#00ffff" fill-opacity="0.4"/>
<rect x="388.5" y="605.9" width="5" height="3.6" fill="#00ffff" fill-opacity="0.25"/>
<rect x="388.5" y="605.9" width="5" height="3.6" fill="#00ffff" fill-opacity="0.25"/>
<rect x="400" y="605.9" width="24" height="3.6" fill="#00ffff" fill-opacity="0.25"/>
<rect x="426" y="605.9" width="24" height="3.6" fill="#00ffff" fill-opacity="0.25"/>
<path d="M463.5 605.5V609.5" stroke="#00ffff" stroke-width="1.2"/>
<rect x="478" y="605.9" width="6" height="3.6" fill="#00ffff" fill-opacity="0.4"/>
<rect x="509" y="605.9" width="4" height="3.6" fill="#00ffff" fill-opacity="0.4"/>
<rect x="388.5" y="610.9" width="5" height="3.6" fill="#00ffff" fill-opacity="0.25"/>
<rect x="388.5" y="610.9" width="5" height="3.6" fill="#00ffff" fill-opacity="0.25"/>
<rect x="399" y="610.9" width="24" height="3.6" fill="#00ffff" fill-opacity="0.25"/>
<rect x="426" y="611.5" width="5.5" height="3" fill="#00ffff"/>
<rect x="431" y="610.9" width="29" height="3.6" fill="#00ffff" fill-opacity="0.25"/>
<path d="M463.5 611.5V614.5" stroke="#00ffff" stroke-width="1.2"/>
<rect x="478" y="610.9" width="5" height="3.6" fill="#00ffff" fill-opacity="0.4"/>
<rect x="509" y="610.9" width="4" height="3.6" fill="#00ffff" fill-opacity="0.4"/>
<rect x="388.5" y="616.9" width="5" height="3.6" fill="#00ffff" fill-opacity="0.25"/>
<rect x="388.5" y="616.9" width="5" height="3.6" fill="#00ffff" fill-opacity="0.25"/>
<rect x="397" y="616.9" width="28" height="3.6" fill="#00ffff" fill-opacity="0.25"/>
<rect x="426" y="616.9" width="23" height="3.6" fill="#00ffff" fill-opacity="0.25"/>
<path d="M463.5 616.5V620.5" stroke="#00ffff" stroke-width="1.2"/>
<rect x="477" y="616.9" width="12" height="3.6" fill="#00ffff" fill-opacity="0.4"/>
<rect x="508" y="616.9" width="6" height="3.6" fill="#00ffff" fill-opacity="0.4"/>
<rect x="388.5" y="621.9" width="5" height="3.6" fill="#00ffff" fill-opacity="0.25"/>
<rect x="388.5" y="621.9" width="5" height="3.6" fill="#00ffff" fill-opacity="0.25"/>
<rect x="398" y="621.9" width="27" height="3.6" fill="#00ffff" fill-opacity="0.25"/>
<rect x="426" y="621.9" width="26" height="3.6" fill="#00ffff" fill-opacity="0.25"/>
<path d="M463.5 622.5V625.5" stroke="#00ffff" stroke-width="1.2"/>
<rect x="478" y="621.9" width="11" height="3.6" fill="#00ffff" fill-opacity="0.4"/>
<rect x="499" y="621.9" width="8" height="3.6" fill="#00ffff" fill-opacity="0.4"/>
<rect x="508" y="621.9" width="6" height="3.6" fill="#00ffff" fill-opacity="0.4"/>
<rect x="388.5" y="627.9" width="5" height="3.6" fill="#00ffff" fill-opacity="0.25"/>
<rect x="388.5" y="627.9" width="5" height="3.6" fill="#00ffff" fill-opacity="0.25"/>
<rect x="400" y="627.9" width="24" height="3.6" fill="#00ffff" fill-opacity="0.25"/>
<rect x="426" y="627.9" width="26" height="3.6" fill="#00ffff" fill-opacity="0.25"/>
<path d="M463.5 627.5V631.5" stroke="#00ffff" stroke-width="1.2"/>
<rect x="478" y="627.9" width="6" height="3.6" fill="#00ffff" fill-opacity="0.4"/>
<rect x="499" y="627.9" width="8" height="3.6" fill="#00ffff" fill-opacity="0.4"/>
<rect x="508" y="627.9" width="7" height="3.6" fill="#00ffff" fill-opacity="0.4"/>
<rect x="388.5" y="633.9" width="5" height="3.6" fill="#00ffff" fill-opacity="0.25"/>
<rect x="388.5" y="633.9" width="5" height="3.6" fill="#00ffff" fill-opacity="0.25"/>
<rect x="426" y="633.5" width="5.5" height="4" fill="#00ffff"/>
<rect x="431" y="633.9" width="30" height="3.6" fill="#00ffff" fill-opacity="0.25"/>
<path d="M463.5 633.5V637.5" stroke="#00ffff" stroke-width="1.2"/>
<rect x="478" y="633.9" width="11" height="3.6" fill="#00ffff" fill-opacity="0.4"/>
<rect x="510" y="633.9" width="3" height="3.6" fill="#00ffff" fill-opacity="0.4"/>
</g>
<g fill="none" stroke-linecap="butt">
<path d="M122.5 134.5 C122.5 126 130.5 120 139.5 120 L155.5 120 C164.5 120 172.5 126 172.5 134.5" stroke="#ffffff" stroke-width="1" fill="none"/>
<circle cx="147.5" cy="150" r="5" stroke="#ffffff" stroke-width="1" fill="none"/>
<path d="M122.5 172L172.5 191.5" stroke="#ffffff" stroke-width="1"/>
<path d="M122.5 191.5L172.5 172" stroke="#ffffff" stroke-width="1"/>
<circle cx="147.5" cy="215.5" r="5.2" stroke="#ffffff" stroke-width="1.2" fill="none"/>
<path d="M122.5 231L172.5 251" stroke="#ffffff" stroke-width="1"/>
<path d="M122.5 251L172.5 231" stroke="#ffffff" stroke-width="1"/>
<circle cx="147.5" cy="274.9" r="5.2" stroke="#ffffff" stroke-width="1.2" fill="none"/>
<path d="M122.5 290.4L172.5 310.4" stroke="#ffffff" stroke-width="1"/>
<path d="M122.5 310.4L172.5 290.4" stroke="#ffffff" stroke-width="1"/>
<circle cx="147.5" cy="334.3" r="5.2" stroke="#ffffff" stroke-width="1.2" fill="none"/>
<path d="M122.5 349.8L172.5 369.8" stroke="#ffffff" stroke-width="1"/>
<path d="M122.5 369.8L172.5 349.8" stroke="#ffffff" stroke-width="1"/>
<circle cx="147.5" cy="393.7" r="5.2" stroke="#ffffff" stroke-width="1.2" fill="none"/>
<path d="M122.5 409.2L172.5 429.2" stroke="#ffffff" stroke-width="1"/>
<path d="M122.5 429.2L172.5 409.2" stroke="#ffffff" stroke-width="1"/>
<circle cx="147.5" cy="453.1" r="5.2" stroke="#ffffff" stroke-width="1.2" fill="none"/>
<path d="M122.5 468.6L172.5 488.6" stroke="#ffffff" stroke-width="1"/>
<path d="M122.5 488.6L172.5 468.6" stroke="#ffffff" stroke-width="1"/>
<circle cx="147.5" cy="512.5" r="5.2" stroke="#ffffff" stroke-width="1.2" fill="none"/>
<path d="M122.5 528L172.5 548" stroke="#ffffff" stroke-width="1"/>
<path d="M122.5 548L172.5 528" stroke="#ffffff" stroke-width="1"/>
<path d="M147.45 111L147.45 556" stroke="#ff0000" stroke-width="1.4"/>
<path d="M114.5 176 V104 C114.5 90 124 79.5 138 79.5 H149.5" stroke="#ffffff" stroke-width="1" fill="none"/>
<path d="M118.5 176 V104.5 C118.5 92.5 126 83.5 138 83.5 H149.5" stroke="#ffffff" stroke-width="1" fill="none"/>
<path d="M116.5 176 V104 C116.5 91 125 81.5 138 81.5 H152" stroke="#ff0000" stroke-width="1" fill="none"/>
<text x="187" y="161" font-size="4.5" fill="#00ffff" stroke="#00ffff" stroke-width="0.3" font-weight="bold">6</text>
<path d="M114 105.5L96.5 90.2" stroke="#ffffff" stroke-width="1"/>
<text x="90.2" y="89.6" font-size="6" fill="#00ffff" stroke="#00ffff" stroke-width="0.3" font-weight="bold">32</text>
<path d="M172 93.5L173.5 96" stroke="#ffffff" stroke-width="1"/>
<path d="M173.5 96L175 93.5" stroke="#ffffff" stroke-width="1"/>
<path d="M155.5 93.5L153 114.5" stroke="#ffffff" stroke-width="1"/>
<text x="157" y="92" font-size="6" fill="#00ffff" stroke="#00ffff" stroke-width="0.3" font-weight="bold">1</text>
<text x="167" y="92" font-size="6" fill="#00ffff" stroke="#00ffff" stroke-width="0.3" font-weight="bold">2</text>
<text x="177" y="92" font-size="6" fill="#00ffff" stroke="#00ffff" stroke-width="0.3" font-weight="bold">3</text>
<text x="187.5" y="117.5" font-size="6" fill="#00ffff" stroke="#00ffff" stroke-width="0.3" font-weight="bold">4</text>
<path d="M184.5 118.5L174 126" stroke="#ffffff" stroke-width="1"/>
<text x="195.3" y="130.3" font-size="6" fill="#00ffff" stroke="#00ffff" stroke-width="0.3" font-weight="bold">7</text>
<text x="195.3" y="137" font-size="5.5" fill="#00ffff" stroke="#00ffff" stroke-width="0.3" font-weight="bold">8</text>
<text x="195.3" y="143.5" font-size="5.5" fill="#00ffff" stroke="#00ffff" stroke-width="0.3" font-weight="bold">9</text>
<path d="M193.5 144.5L175.5 155" stroke="#ffffff" stroke-width="1"/>
<text x="196.5" y="185" font-size="6" fill="#00ffff" stroke="#00ffff" stroke-width="0.3" font-weight="bold">8</text>
<path d="M195 185.5L174 192.5" stroke="#ffffff" stroke-width="1"/>
<text x="196.5" y="201" font-size="6" fill="#00ffff" stroke="#00ffff" stroke-width="0.3" font-weight="bold">9</text>
<path d="M195 201.5L174 208" stroke="#ffffff" stroke-width="1"/>
<text x="195" y="211.5" font-size="6" fill="#00ffff" stroke="#00ffff" stroke-width="0.3" font-weight="bold">10</text>
<path d="M194 212.5L155 216.5" stroke="#ffffff" stroke-width="1"/>
<text x="197" y="257" font-size="6" fill="#00ffff" stroke="#00ffff" stroke-width="0.3" font-weight="bold">11</text>
<path d="M196 258.5L154 275" stroke="#ffffff" stroke-width="1"/>
<text x="195" y="288" font-size="6" fill="#00ffff" stroke="#00ffff" stroke-width="0.3" font-weight="bold">12</text>
<path d="M194 289.5L174 297" stroke="#ffffff" stroke-width="1"/>
<text x="150.5" y="159" font-size="6" fill="#00ffff" stroke="#00ffff" stroke-width="0.3" font-weight="bold">f</text>
<text x="153" y="160" font-size="3.5" fill="#00ffff" stroke="#00ffff" stroke-width="0.3" font-weight="bold">1</text>
<text x="150.5" y="224.5" font-size="6" fill="#00ffff" stroke="#00ffff" stroke-width="0.3" font-weight="bold">f</text>
<text x="153" y="225.5" font-size="3.5" fill="#00ffff" stroke="#00ffff" stroke-width="0.3" font-weight="bold">2</text>
<text x="150.5" y="284" font-size="6" fill="#00ffff" stroke="#00ffff" stroke-width="0.3" font-weight="bold">f</text>
<text x="153" y="285" font-size="3.5" fill="#00ffff" stroke="#00ffff" stroke-width="0.3" font-weight="bold">3</text>
<text x="150.5" y="343.3" font-size="6" fill="#00ffff" stroke="#00ffff" stroke-width="0.3" font-weight="bold">f</text>
<text x="153" y="344.3" font-size="3.5" fill="#00ffff" stroke="#00ffff" stroke-width="0.3" font-weight="bold">4</text>
<text x="150.5" y="402.7" font-size="6" fill="#00ffff" stroke="#00ffff" stroke-width="0.3" font-weight="bold">f</text>
<text x="153" y="403.7" font-size="3.5" fill="#00ffff" stroke="#00ffff" stroke-width="0.3" font-weight="bold">5</text>
<text x="150.5" y="462" font-size="6" fill="#00ffff" stroke="#00ffff" stroke-width="0.3" font-weight="bold">f</text>
<text x="153" y="463" font-size="3.5" fill="#00ffff" stroke="#00ffff" stroke-width="0.3" font-weight="bold">6</text>
<text x="150.5" y="521.5" font-size="6" fill="#00ffff" stroke="#00ffff" stroke-width="0.3" font-weight="bold">f</text>
<text x="153" y="522.5" font-size="3.5" fill="#00ffff" stroke="#00ffff" stroke-width="0.3" font-weight="bold">7</text>
<text x="145" y="77" font-size="6" fill="#00ffff" stroke="#00ffff" stroke-width="0.3" font-weight="bold">f</text>
<text x="146.5" y="111" font-size="6" fill="#00ffff" stroke="#00ffff" stroke-width="0.3" font-weight="bold">g</text>
<text x="129" y="118" font-size="6" fill="#00ffff" stroke="#00ffff" stroke-width="0.3" font-weight="bold">t</text>
<text x="134" y="118" font-size="6" fill="#00ffff" stroke="#00ffff" stroke-width="0.3" font-weight="bold">h</text>
<path d="M133 121L134.5 124" stroke="#ff0000" stroke-width="1"/>
<path d="M136 121L134.5 124" stroke="#ff0000" stroke-width="1"/>
<text x="196" y="428.7" font-size="5.5" fill="#00ffff" stroke="#00ffff" stroke-width="0.3" font-weight="bold">19</text>
<text x="196" y="435.8" font-size="5.5" fill="#00ffff" stroke="#00ffff" stroke-width="0.3" font-weight="bold">20</text>
<path d="M195.5 435L154 452" stroke="#ffffff" stroke-width="1"/>
<path d="M118 502L104 483" stroke="#ffffff" stroke-width="1"/>
<text x="99" y="474.5" font-size="4.5" fill="#00ffff" stroke="#00ffff" stroke-width="0.3" font-weight="bold">13</text>
<text x="99" y="482.5" font-size="4.5" fill="#00ffff" stroke="#00ffff" stroke-width="0.3" font-weight="bold">14</text>
<text x="98" y="491.5" font-size="4.5" fill="#00ffff" stroke="#00ffff" stroke-width="0.3" font-weight="bold">15</text>
<text x="98" y="497.5" font-size="4.5" fill="#00ffff" stroke="#00ffff" stroke-width="0.3" font-weight="bold">16</text>
<text x="98" y="503.5" font-size="4.5" fill="#00ffff" stroke="#00ffff" stroke-width="0.3" font-weight="bold">17</text>
<path d="M103 504.5L117 509.5" stroke="#ffffff" stroke-width="1"/>
<circle cx="264.5" cy="106.8" r="5.2" stroke="#ffffff" stroke-width="1.2" fill="none"/>
<path d="M239.5 122L288.5 141.5" stroke="#ffffff" stroke-width="1"/>
<path d="M239.5 141.5L288.5 122" stroke="#ffffff" stroke-width="1"/>
<circle cx="264.5" cy="166.25" r="5.2" stroke="#ffffff" stroke-width="1.2" fill="none"/>
<path d="M239.5 181.45L288.5 200.95" stroke="#ffffff" stroke-width="1"/>
<path d="M239.5 200.95L288.5 181.45" stroke="#ffffff" stroke-width="1"/>
<circle cx="264.5" cy="225.7" r="5.2" stroke="#ffffff" stroke-width="1.2" fill="none"/>
<path d="M239.5 240.9L288.5 260.4" stroke="#ffffff" stroke-width="1"/>
<path d="M239.5 260.4L288.5 240.9" stroke="#ffffff" stroke-width="1"/>
<circle cx="264.5" cy="285.15" r="5.2" stroke="#ffffff" stroke-width="1.2" fill="none"/>
<path d="M239.5 300.35L288.5 319.85" stroke="#ffffff" stroke-width="1"/>
<path d="M239.5 319.85L288.5 300.35" stroke="#ffffff" stroke-width="1"/>
<circle cx="264.5" cy="344.6" r="5.2" stroke="#ffffff" stroke-width="1.2" fill="none"/>
<path d="M239.5 359.8L288.5 379.3" stroke="#ffffff" stroke-width="1"/>
<path d="M239.5 379.3L288.5 359.8" stroke="#ffffff" stroke-width="1"/>
<circle cx="264.5" cy="404.05" r="5.2" stroke="#ffffff" stroke-width="1.2" fill="none"/>
<path d="M239.5 419.25L288.5 438.75" stroke="#ffffff" stroke-width="1"/>
<path d="M239.5 438.75L288.5 419.25" stroke="#ffffff" stroke-width="1"/>
<path d="M264.8 74L264.8 622" stroke="#ff0000" stroke-width="1.7"/>
<text x="267.5" y="116.5" font-size="6" fill="#00ffff" stroke="#00ffff" stroke-width="0.3" font-weight="bold">f</text>
<text x="270" y="117.5" font-size="3.5" fill="#00ffff" stroke="#00ffff" stroke-width="0.3" font-weight="bold">8</text>
<text x="267.5" y="175.95" font-size="6" fill="#00ffff" stroke="#00ffff" stroke-width="0.3" font-weight="bold">f</text>
<text x="270" y="176.95" font-size="3.5" fill="#00ffff" stroke="#00ffff" stroke-width="0.3" font-weight="bold">9</text>
<text x="267.5" y="235.4" font-size="6" fill="#00ffff" stroke="#00ffff" stroke-width="0.3" font-weight="bold">f</text>
<text x="270" y="236.4" font-size="3.5" fill="#00ffff" stroke="#00ffff" stroke-width="0.3" font-weight="bold">10</text>
<text x="267.5" y="294.85" font-size="6" fill="#00ffff" stroke="#00ffff" stroke-width="0.3" font-weight="bold">f</text>
<text x="270" y="295.85" font-size="3.5" fill="#00ffff" stroke="#00ffff" stroke-width="0.3" font-weight="bold">11</text>
<text x="267.5" y="354.3" font-size="6" fill="#00ffff" stroke="#00ffff" stroke-width="0.3" font-weight="bold">f</text>
<text x="270" y="355.3" font-size="3.5" fill="#00ffff" stroke="#00ffff" stroke-width="0.3" font-weight="bold">12</text>
<text x="267.5" y="413.75" font-size="6" fill="#00ffff" stroke="#00ffff" stroke-width="0.3" font-weight="bold">f</text>
<text x="270" y="414.75" font-size="3.5" fill="#00ffff" stroke="#00ffff" stroke-width="0.3" font-weight="bold">13</text>
<text x="218.5" y="96" font-size="5.5" fill="#00ffff" stroke="#00ffff" stroke-width="0.3" font-weight="bold">b</text>
<text x="221.5" y="97" font-size="3.5" fill="#00ffff" stroke="#00ffff" stroke-width="0.3" font-weight="bold">1</text>
<text x="217.5" y="104.5" font-size="5.5" fill="#00ffff" stroke="#00ffff" stroke-width="0.3" font-weight="bold">b</text>
<text x="220.5" y="105.5" font-size="3.5" fill="#00ffff" stroke="#00ffff" stroke-width="0.3" font-weight="bold">2</text>
<text x="218.5" y="156" font-size="5.5" fill="#00ffff" stroke="#00ffff" stroke-width="0.3" font-weight="bold">b</text>
<text x="221.5" y="157" font-size="3.5" fill="#00ffff" stroke="#00ffff" stroke-width="0.3" font-weight="bold">1</text>
<text x="217.5" y="164.5" font-size="5.5" fill="#00ffff" stroke="#00ffff" stroke-width="0.3" font-weight="bold">b</text>
<text x="220.5" y="165.5" font-size="3.5" fill="#00ffff" stroke="#00ffff" stroke-width="0.3" font-weight="bold">2</text>
<path d="M224 184.5L238 210" stroke="#ffffff" stroke-width="1"/>
<text x="219" y="183" font-size="4" fill="#00ffff" stroke="#00ffff" stroke-width="0.3" font-weight="bold">x</text>
<path d="M309 371L289 381" stroke="#ffffff" stroke-width="1"/>
<text x="317" y="264" font-size="6" fill="#00ffff" stroke="#00ffff" stroke-width="0.3" font-weight="bold">31</text>
<path d="M316 264.5L270 285" stroke="#ffffff" stroke-width="1"/>
<text x="312" y="432" font-size="6" fill="#00ffff" stroke="#00ffff" stroke-width="0.3" font-weight="bold">30</text>
<path d="M311 433.5L302 441" stroke="#ffffff" stroke-width="1"/>
<path d="M302 441L289 448" stroke="#ffffff" stroke-width="1"/>
<text x="219" y="435" font-size="6" fill="#00ffff" stroke="#00ffff" stroke-width="0.3" font-weight="bold">21</text>
<path d="M225 436.5L235 460" stroke="#ffffff" stroke-width="1"/>
<text x="218.5" y="464.5" font-size="6" fill="#00ffff" stroke="#00ffff" stroke-width="0.3" font-weight="bold">22</text>
<path d="M224.6 465.5L238 480" stroke="#ffffff" stroke-width="1"/>
<path d="M239.5 508.5 C243.5 517 252.5 521 264.5 521 C276.5 521 284.5 517 288.5 508.5" stroke="#ffffff" stroke-width="1.3" fill="none"/>
<path d="M294 471L311 482" stroke="#ffffff" stroke-width="1"/>
<text x="313" y="481" font-size="4.5" fill="#00ffff" stroke="#00ffff" stroke-width="0.3" font-weight="bold">28</text>
<text x="313" y="487" font-size="4" fill="#00ffff" stroke="#00ffff" stroke-width="0.3" font-weight="bold">29</text>
<path d="M238 519L226.5 618" stroke="#ffffff" stroke-width="2"/>
<path d="M290 519L302.5 618" stroke="#ffffff" stroke-width="2"/>
<path d="M260.5 521 V563 C260.5 572 264 576.5 272 576.5 H296" stroke="#ffffff" stroke-width="1" fill="none"/>
<path d="M266.5 521 V562 C266.5 567 268 569.5 273 569.5 H296" stroke="#ffffff" stroke-width="1" fill="none"/>
<text x="311" y="576" font-size="5" fill="#00ffff" stroke="#00ffff" stroke-width="0.3" font-weight="bold">e</text>
<text x="218.5" y="517.3" font-size="5.5" fill="#00ffff" stroke="#00ffff" stroke-width="0.3" font-weight="bold">13</text>
<path d="M225 518.5L235 515" stroke="#ffffff" stroke-width="1"/>
<text x="218" y="543.5" font-size="4.5" fill="#00ffff" stroke="#00ffff" stroke-width="0.3" font-weight="bold">24</text>
<text x="218" y="548.5" font-size="4.5" fill="#00ffff" stroke="#00ffff" stroke-width="0.3" font-weight="bold">25</text>
<text x="218" y="553.5" font-size="4.5" fill="#00ffff" stroke="#00ffff" stroke-width="0.3" font-weight="bold">26</text>
<path d="M224 556L261 541" stroke="#ffffff" stroke-width="1"/>
<text x="215" y="570.5" font-size="5" fill="#00ffff" stroke="#00ffff" stroke-width="0.3" font-weight="bold">27</text>
<path d="M221 571.5L232 564" stroke="#ffffff" stroke-width="1"/>
<path d="M296 549L299 546" stroke="#ffffff" stroke-width="1"/>
<path d="M99.5 647L121 625" stroke="#ffffff" stroke-width="1"/>
<path d="M99.5 642L118 623.5" stroke="#ffffff" stroke-width="1"/>
<path d="M99.5 630L108 622" stroke="#ffffff" stroke-width="1"/>
<path d="M104 628L110 634" stroke="#00ffff" stroke-width="1"/>
<text x="117" y="603.5" font-size="4.5" fill="#00ffff" stroke="#00ffff" stroke-width="0.3" font-weight="bold">I</text>
<text x="117" y="648.5" font-size="4.5" fill="#00ffff" stroke="#00ffff" stroke-width="0.3" font-weight="bold">I</text>
<circle cx="160.5" cy="620.5" r="9.6" stroke="#ffffff" stroke-width="1" fill="none"/>
<circle cx="160.5" cy="620.5" r="6.4" stroke="#ff0000" stroke-width="1" fill="none"/>
<circle cx="160.5" cy="620.5" r="2.6" stroke="#ff0000" stroke-width="1" fill="#ff0000"/>
<path d="M158.5 623.5L145 648" stroke="#ffffff" stroke-width="1.2"/>
<path d="M162.5 623.5L177 648" stroke="#ffffff" stroke-width="1.2"/>
<path d="M159.5 624.5L146.5 647" stroke="#ff0000" stroke-width="1"/>
<path d="M161.5 624.5L175.5 647" stroke="#ff0000" stroke-width="1"/>
<path d="M150 641 Q160.5 646 171 641" stroke="#ffffff" stroke-width="1" fill="none"/>
<path d="M173 641L180 636" stroke="#00ffff" stroke-width="1"/>
<text x="419" y="51.3" font-size="6.2" fill="#00ffff" stroke="#00ffff" stroke-width="0.3" font-weight="bold" letter-spacing="2.9">技术要求</text>
<path d="M438 106L440 110.5L445 102L447 102" stroke="#ffffff" stroke-width="1" fill="none"/>
<path d="M361 194L374 204.5" stroke="#ffffff" stroke-width="1"/>
<path d="M343 181L347 178" stroke="#00ffff" stroke-width="1"/>
<path d="M347 178L356 188" stroke="#ffffff" stroke-width="1"/>
<path d="M344 185L343 191" stroke="#ffffff" stroke-width="1"/>
<path d="M360 264L375.5 271.5" stroke="#ffffff" stroke-width="1"/>
<path d="M341 250L346 245" stroke="#00ffff" stroke-width="1"/>
<path d="M346 245L352 256" stroke="#ffffff" stroke-width="1"/>
<path d="M344 247L340 259" stroke="#ffffff" stroke-width="1"/>
<path d="M341.5 291L333.5 280.5" stroke="#ffffff" stroke-width="1"/>
<path d="M341.5 291L349.8 280.5" stroke="#ffffff" stroke-width="1"/>
<path d="M348.5 316.5 C350 328 356 335 363.5 337.5" stroke="#ffffff" stroke-width="2" fill="none"/>
<path d="M339 315.3L332.8 336.5L345 336.5Z" stroke="#ffffff" stroke-width="1" fill="none"/>
<path d="M339 318L336 336.5" stroke="#ffffff" stroke-width="1"/>
<path d="M339 318L342 336.5" stroke="#ffffff" stroke-width="1"/>
<path d="M340 421L348 411" stroke="#ffffff" stroke-width="1"/>
<path d="M344 421L348 413" stroke="#ffffff" stroke-width="1"/>
<circle cx="448.5" cy="206" r="27" stroke="#ffffff" stroke-width="1" fill="none"/>
<circle cx="448.5" cy="206" r="23.7" stroke="#ffffff" stroke-width="1" fill="none"/>
<path d="M472.2 206L475.5 206" stroke="#ffffff" stroke-width="1"/>
<path d="M471.61 211.27L474.82 212.01" stroke="#ffffff" stroke-width="1"/>
<path d="M469.85 216.28L472.83 217.71" stroke="#ffffff" stroke-width="1"/>
<path d="M467.03 220.78L469.61 222.83" stroke="#ffffff" stroke-width="1"/>
<path d="M463.28 224.53L465.33 227.11" stroke="#ffffff" stroke-width="1"/>
<path d="M458.78 227.35L460.21 230.33" stroke="#ffffff" stroke-width="1"/>
<path d="M453.77 229.11L454.51 232.32" stroke="#ffffff" stroke-width="1"/>
<path d="M448.5 229.7L448.5 233" stroke="#ffffff" stroke-width="1"/>
<path d="M443.23 229.11L442.49 232.32" stroke="#ffffff" stroke-width="1"/>
<path d="M438.22 227.35L436.79 230.33" stroke="#ffffff" stroke-width="1"/>
<path d="M433.72 224.53L431.67 227.11" stroke="#ffffff" stroke-width="1"/>
<path d="M429.97 220.78L427.39 222.83" stroke="#ffffff" stroke-width="1"/>
<path d="M427.15 216.28L424.17 217.71" stroke="#ffffff" stroke-width="1"/>
<path d="M425.39 211.27L422.18 212.01" stroke="#ffffff" stroke-width="1"/>
<path d="M424.8 206L421.5 206" stroke="#ffffff" stroke-width="1"/>
<path d="M425.39 200.73L422.18 199.99" stroke="#ffffff" stroke-width="1"/>
<path d="M427.15 195.72L424.17 194.29" stroke="#ffffff" stroke-width="1"/>
<path d="M429.97 191.22L427.39 189.17" stroke="#ffffff" stroke-width="1"/>
<path d="M433.72 187.47L431.67 184.89" stroke="#ffffff" stroke-width="1"/>
<path d="M438.22 184.65L436.79 181.67" stroke="#ffffff" stroke-width="1"/>
<path d="M443.23 182.89L442.49 179.68" stroke="#ffffff" stroke-width="1"/>
<path d="M448.5 182.3L448.5 179" stroke="#ffffff" stroke-width="1"/>
<path d="M453.77 182.89L454.51 179.68" stroke="#ffffff" stroke-width="1"/>
<path d="M458.78 184.65L460.21 181.67" stroke="#ffffff" stroke-width="1"/>
<path d="M463.28 187.47L465.33 184.89" stroke="#ffffff" stroke-width="1"/>
<path d="M467.03 191.22L469.61 189.17" stroke="#ffffff" stroke-width="1"/>
<path d="M469.85 195.72L472.83 194.29" stroke="#ffffff" stroke-width="1"/>
<path d="M471.61 200.73L474.82 199.99" stroke="#ffffff" stroke-width="1"/>
<circle cx="448.5" cy="206" r="21.7" stroke="#ff0000" stroke-width="1" fill="none"/>
<circle cx="448.5" cy="206" r="19.8" stroke="#ffffff" stroke-width="1" fill="none"/>
<path d="M464.53 210.3L460.24 217.74L452.8 222.03L444.2 222.03L436.76 217.74L432.47 210.3L432.47 201.7L436.76 194.26L444.2 189.97L452.8 189.97L460.24 194.26L464.53 201.7Z" stroke="#ffffff" stroke-width="1" fill="none"/>
<circle cx="448.5" cy="206" r="5" stroke="#ffffff" stroke-width="1" fill="none"/>
<path d="M448.5 206L458.89 195.61" stroke="#ff0000" stroke-width="1"/>
<path d="M448.5 206L458.89 216.39" stroke="#ff0000" stroke-width="1"/>
<path d="M448.5 206L438.95 215.55" stroke="#ff0000" stroke-width="1"/>
<path d="M448.5 206L438.95 196.45" stroke="#ff0000" stroke-width="1"/>
<path d="M448.5 206L434.5 212" stroke="#ff0000" stroke-width="1"/>
<rect x="446" y="201.8" width="3.2" height="5" fill="#00ffff"/>
<text x="446.5" y="177.2" font-size="5.5" fill="#00ffff" stroke="#00ffff" stroke-width="0.3" font-weight="bold" textLength="4" lengthAdjust="spacingAndGlyphs">0°</text>
<text x="420" y="186" font-size="5.5" fill="#00ffff" stroke="#00ffff" stroke-width="0.3" font-weight="bold" textLength="6.8" lengthAdjust="spacingAndGlyphs">70°</text>
<text x="470.4" y="186" font-size="5.5" fill="#00ffff" stroke="#00ffff" stroke-width="0.3" font-weight="bold" textLength="4.4" lengthAdjust="spacingAndGlyphs">0°</text>
<text x="414" y="195" font-size="5.5" fill="#00ffff" stroke="#00ffff" stroke-width="0.3" font-weight="bold" textLength="11" lengthAdjust="spacingAndGlyphs">142.5°</text>
<text x="411.7" y="208.4" font-size="5.5" fill="#00ffff" stroke="#00ffff" stroke-width="0.3" font-weight="bold" textLength="7.1" lengthAdjust="spacingAndGlyphs">270°</text>
<text x="480.4" y="208.4" font-size="5.5" fill="#00ffff" stroke="#00ffff" stroke-width="0.3" font-weight="bold" textLength="6" lengthAdjust="spacingAndGlyphs">90°</text>
<text x="412" y="221" font-size="5.5" fill="#00ffff" stroke="#00ffff" stroke-width="0.3" font-weight="bold" textLength="10.7" lengthAdjust="spacingAndGlyphs">247.5°</text>
<text x="469" y="229.8" font-size="5.5" fill="#00ffff" stroke="#00ffff" stroke-width="0.3" font-weight="bold" textLength="7" lengthAdjust="spacingAndGlyphs">135°</text>
<text x="446.8" y="242" font-size="5.5" fill="#00ffff" stroke="#00ffff" stroke-width="0.3" font-weight="bold" textLength="7.7" lengthAdjust="spacingAndGlyphs">180°</text>
<path d="M470.5 190.5L485 181.5" stroke="#ffffff" stroke-width="1"/>
<text x="439" y="263.3" font-size="5.6" fill="#00ffff" stroke="#00ffff" stroke-width="0.6" font-weight="bold" textLength="20" lengthAdjust="spacingAndGlyphs">技术特性</text>
<path d="M483 294.5L500 291" stroke="#ffffff" stroke-width="1"/>
<text x="449.5" y="334.5" font-size="6" fill="#00ffff" stroke="#00ffff" stroke-width="0.3" font-weight="bold" letter-spacing="2.2">管口表</text>
<text x="417" y="352.9" font-size="5" fill="#00ffff" stroke="#00ffff" stroke-width="0.4" font-weight="bold">a</text>
<text x="438.3" y="352.9" font-size="5.4" fill="#00ffff" stroke="#00ffff" stroke-width="0.6" font-weight="bold" textLength="10.2" lengthAdjust="spacingAndGlyphs">PN1.6</text>
<text x="454.4" y="352.9" font-size="5.4" fill="#00ffff" stroke="#00ffff" stroke-width="0.6" font-weight="bold" textLength="21.8" lengthAdjust="spacingAndGlyphs">HG20592-97</text>
<text x="415" y="358.55" font-size="5" fill="#ffffff" stroke="#ffffff" stroke-width="0.4" font-weight="bold">b</text>
<text x="442" y="358.55" font-size="5.4" fill="#00ffff" stroke="#00ffff" stroke-width="0.6" font-weight="bold" textLength="6.5" lengthAdjust="spacingAndGlyphs">PN1.6</text>
<text x="454.4" y="358.55" font-size="5.4" fill="#00ffff" stroke="#00ffff" stroke-width="0.6" font-weight="bold" textLength="21.8" lengthAdjust="spacingAndGlyphs">HG20592-97</text>
<text x="417" y="364.2" font-size="5" fill="#00ffff" stroke="#00ffff" stroke-width="0.4" font-weight="bold">c</text>
<text x="438.3" y="364.2" font-size="5.4" fill="#00ffff" stroke="#00ffff" stroke-width="0.6" font-weight="bold" textLength="10.2" lengthAdjust="spacingAndGlyphs">PN1.6</text>
<text x="454.4" y="364.2" font-size="5.4" fill="#00ffff" stroke="#00ffff" stroke-width="0.6" font-weight="bold" textLength="21.8" lengthAdjust="spacingAndGlyphs">HG20592-97</text>
<text x="417" y="369.85" font-size="5" fill="#00ffff" stroke="#00ffff" stroke-width="0.4" font-weight="bold">d</text>
<text x="442" y="369.85" font-size="5.4" fill="#00ffff" stroke="#00ffff" stroke-width="0.6" font-weight="bold" textLength="6.5" lengthAdjust="spacingAndGlyphs">PN1.6</text>
<text x="454.4" y="369.85" font-size="5.4" fill="#00ffff" stroke="#00ffff" stroke-width="0.6" font-weight="bold" textLength="21.8" lengthAdjust="spacingAndGlyphs">HG20592-97</text>
<text x="417" y="375.5" font-size="5" fill="#00ffff" stroke="#00ffff" stroke-width="0.4" font-weight="bold">e</text>
<text x="438.3" y="375.5" font-size="5.4" fill="#00ffff" stroke="#00ffff" stroke-width="0.6" font-weight="bold" textLength="10.2" lengthAdjust="spacingAndGlyphs">PN1.6</text>
<text x="454.4" y="375.5" font-size="5.4" fill="#00ffff" stroke="#00ffff" stroke-width="0.6" font-weight="bold" textLength="21.8" lengthAdjust="spacingAndGlyphs">HG20592-97</text>
<text x="414" y="381.15" font-size="5" fill="#ffffff" stroke="#ffffff" stroke-width="0.4" font-weight="bold">f</text>
<text x="416" y="386.8" font-size="5" fill="#00ffff" stroke="#00ffff" stroke-width="0.4" font-weight="bold">g</text>
<text x="415" y="392.45" font-size="5" fill="#ffffff" stroke="#ffffff" stroke-width="0.4" font-weight="bold">h</text>
<text x="438.3" y="392.45" font-size="5.4" fill="#00ffff" stroke="#00ffff" stroke-width="0.6" font-weight="bold" textLength="10.2" lengthAdjust="spacingAndGlyphs">PN1.6</text>
<text x="454.4" y="392.45" font-size="5.4" fill="#00ffff" stroke="#00ffff" stroke-width="0.6" font-weight="bold" textLength="21.8" lengthAdjust="spacingAndGlyphs">HG20592-97</text>
<text x="415" y="398.1" font-size="5" fill="#ffffff" stroke="#ffffff" stroke-width="0.4" font-weight="bold">i</text>
<text x="438.3" y="398.1" font-size="5.4" fill="#00ffff" stroke="#00ffff" stroke-width="0.6" font-weight="bold" textLength="10.2" lengthAdjust="spacingAndGlyphs">PN1.6</text>
<text x="454.4" y="398.1" font-size="5.4" fill="#00ffff" stroke="#00ffff" stroke-width="0.6" font-weight="bold" textLength="21.8" lengthAdjust="spacingAndGlyphs">HG20592-97</text>
<text x="415" y="403.75" font-size="5" fill="#ffffff" stroke="#ffffff" stroke-width="0.4" font-weight="bold">j</text>
<text x="438.3" y="403.75" font-size="5.4" fill="#00ffff" stroke="#00ffff" stroke-width="0.6" font-weight="bold" textLength="10.2" lengthAdjust="spacingAndGlyphs">PN1.6</text>
<text x="454.4" y="403.75" font-size="5.4" fill="#00ffff" stroke="#00ffff" stroke-width="0.6" font-weight="bold" textLength="21.8" lengthAdjust="spacingAndGlyphs">HG20592-97</text>
<text x="416" y="409.4" font-size="5" fill="#00ffff" stroke="#00ffff" stroke-width="0.4" font-weight="bold">k</text>
<text x="415" y="415.05" font-size="5" fill="#ffffff" stroke="#ffffff" stroke-width="0.4" font-weight="bold">m</text>
<text x="416" y="420.7" font-size="5" fill="#00ffff" stroke="#00ffff" stroke-width="0.4" font-weight="bold">n</text>
<path d="M423.3 412L443.5 419.6L423.3 428Z" stroke="#ffffff" stroke-width="1" fill="none"/>
<path d="M423.3 416L443.5 419.6" stroke="#ffffff" stroke-width="1"/>
<path d="M423.3 424L443.5 419.6" stroke="#ffffff" stroke-width="1"/>
<path d="M461.3 411L476.2 431" stroke="#ffffff" stroke-width="1"/>
<path d="M476.2 411L460 431" stroke="#ffffff" stroke-width="1"/>
<text x="460" y="675" font-size="5.8" fill="#2a7896" stroke="#2a7896" stroke-width="0" text-anchor="middle" letter-spacing="0.3">Φ2200精馏塔</text>
<text x="460" y="685" font-size="5.8" fill="#2a7896" stroke="#2a7896" stroke-width="0" text-anchor="middle" letter-spacing="1.2">总 图</text>
<text x="388" y="668.5" font-size="6" fill="#00ffff" stroke="#00ffff" stroke-width="0.3" font-weight="bold" letter-spacing="1.5">设 计</text>
<text x="388" y="685.5" font-size="6" fill="#00ffff" stroke="#00ffff" stroke-width="0.3" font-weight="bold" letter-spacing="1.5">校 核</text>
<text x="388" y="694" font-size="6" fill="#00ffff" stroke="#00ffff" stroke-width="0.3" font-weight="bold" letter-spacing="1.5">审 核</text>
<text x="519" y="450.3" font-size="4.5" fill="#00ffff" stroke="#00ffff" stroke-width="0.3" font-weight="bold">KG</text>
<text x="388.5" y="462.6" font-size="5.6" fill="#00ffff" stroke="#00ffff" stroke-width="0.6" font-weight="bold" textLength="5" lengthAdjust="spacingAndGlyphs">38</text>
<text x="388.5" y="462.6" font-size="5.6" fill="#00ffff" stroke="#00ffff" stroke-width="0.6" font-weight="bold" textLength="5" lengthAdjust="spacingAndGlyphs">38</text>
<text x="397" y="462.6" font-size="5.6" fill="#00ffff" stroke="#00ffff" stroke-width="0.6" font-weight="bold" textLength="27" lengthAdjust="spacingAndGlyphs">JB/T4746-2002</text>
<text x="509" y="462.6" font-size="5.6" fill="#00ffff" stroke="#00ffff" stroke-width="0.7" font-weight="bold" textLength="5" lengthAdjust="spacingAndGlyphs">1.2</text>
<text x="388.5" y="467.6" font-size="5.6" fill="#00ffff" stroke="#00ffff" stroke-width="0.6" font-weight="bold" textLength="5" lengthAdjust="spacingAndGlyphs">37</text>
<text x="388.5" y="467.6" font-size="5.6" fill="#00ffff" stroke="#00ffff" stroke-width="0.6" font-weight="bold" textLength="5" lengthAdjust="spacingAndGlyphs">37</text>
<text x="398" y="467.6" font-size="5.6" fill="#00ffff" stroke="#00ffff" stroke-width="0.6" font-weight="bold" textLength="27" lengthAdjust="spacingAndGlyphs">HG20592-97</text>
<text x="426" y="467.6" font-size="5.6" fill="#00ffff" stroke="#00ffff" stroke-width="0.6" font-weight="bold" textLength="26" lengthAdjust="spacingAndGlyphs">PL50-1.0RF</text>
<text x="478" y="467.6" font-size="5.6" fill="#00ffff" stroke="#00ffff" stroke-width="0.7" font-weight="bold" textLength="11" lengthAdjust="spacingAndGlyphs">Q235-A</text>
<text x="499.5" y="467.6" font-size="5.6" fill="#00ffff" stroke="#00ffff" stroke-width="0.7" font-weight="bold" textLength="7.5" lengthAdjust="spacingAndGlyphs">1.0</text>
<text x="508" y="467.6" font-size="5.6" fill="#00ffff" stroke="#00ffff" stroke-width="0.7" font-weight="bold" textLength="6" lengthAdjust="spacingAndGlyphs">2.9</text>
<text x="388.5" y="473.6" font-size="5.6" fill="#00ffff" stroke="#00ffff" stroke-width="0.6" font-weight="bold" textLength="5" lengthAdjust="spacingAndGlyphs">36</text>
<text x="388.5" y="473.6" font-size="5.6" fill="#00ffff" stroke="#00ffff" stroke-width="0.6" font-weight="bold" textLength="5" lengthAdjust="spacingAndGlyphs">36</text>
<text x="399" y="473.6" font-size="5.6" fill="#00ffff" stroke="#00ffff" stroke-width="0.6" font-weight="bold" textLength="24" lengthAdjust="spacingAndGlyphs">GB/T8163-87</text>
<text x="431" y="473.6" font-size="5.6" fill="#00ffff" stroke="#00ffff" stroke-width="0.6" font-weight="bold" textLength="30" lengthAdjust="spacingAndGlyphs">Φ108×4 L=150</text>
<text x="478" y="473.6" font-size="5.6" fill="#00ffff" stroke="#00ffff" stroke-width="0.7" font-weight="bold" textLength="6" lengthAdjust="spacingAndGlyphs">20</text>
<text x="509" y="473.6" font-size="5.6" fill="#00ffff" stroke="#00ffff" stroke-width="0.7" font-weight="bold" textLength="5" lengthAdjust="spacingAndGlyphs">4.6</text>
<text x="388.5" y="479.6" font-size="5.6" fill="#00ffff" stroke="#00ffff" stroke-width="0.6" font-weight="bold" textLength="5" lengthAdjust="spacingAndGlyphs">35</text>
<text x="388.5" y="479.6" font-size="5.6" fill="#00ffff" stroke="#00ffff" stroke-width="0.6" font-weight="bold" textLength="5" lengthAdjust="spacingAndGlyphs">35</text>
<text x="399" y="479.6" font-size="5.6" fill="#00ffff" stroke="#00ffff" stroke-width="0.6" font-weight="bold" textLength="25" lengthAdjust="spacingAndGlyphs">JB/T4736-2002</text>
<text x="426" y="479.6" font-size="5.6" fill="#00ffff" stroke="#00ffff" stroke-width="0.6" font-weight="bold" textLength="24" lengthAdjust="spacingAndGlyphs">dN450×12-A</text>
<text x="478" y="479.6" font-size="5.6" fill="#00ffff" stroke="#00ffff" stroke-width="0.7" font-weight="bold" textLength="7" lengthAdjust="spacingAndGlyphs">20R</text>
<text x="500" y="479.6" font-size="5.6" fill="#00ffff" stroke="#00ffff" stroke-width="0.7" font-weight="bold" textLength="3" lengthAdjust="spacingAndGlyphs">1.7</text>
<text x="509" y="479.6" font-size="5.6" fill="#00ffff" stroke="#00ffff" stroke-width="0.7" font-weight="bold" textLength="5" lengthAdjust="spacingAndGlyphs">6.3</text>
<text x="388.5" y="484.6" font-size="5.6" fill="#00ffff" stroke="#00ffff" stroke-width="0.6" font-weight="bold" textLength="5" lengthAdjust="spacingAndGlyphs">34</text>
<text x="388.5" y="484.6" font-size="5.6" fill="#00ffff" stroke="#00ffff" stroke-width="0.6" font-weight="bold" textLength="5" lengthAdjust="spacingAndGlyphs">34</text>
<text x="399" y="484.6" font-size="5.6" fill="#00ffff" stroke="#00ffff" stroke-width="0.6" font-weight="bold" textLength="24" lengthAdjust="spacingAndGlyphs">HG20594-97</text>
<text x="431" y="484.6" font-size="5.6" fill="#00ffff" stroke="#00ffff" stroke-width="0.6" font-weight="bold" textLength="29" lengthAdjust="spacingAndGlyphs">Φ57×3.5 L=150</text>
<text x="478" y="484.6" font-size="5.6" fill="#00ffff" stroke="#00ffff" stroke-width="0.7" font-weight="bold" textLength="4" lengthAdjust="spacingAndGlyphs">20</text>
<text x="500" y="484.6" font-size="5.6" fill="#00ffff" stroke="#00ffff" stroke-width="0.7" font-weight="bold" textLength="6" lengthAdjust="spacingAndGlyphs">2.0</text>
<text x="509" y="484.6" font-size="5.6" fill="#00ffff" stroke="#00ffff" stroke-width="0.7" font-weight="bold" textLength="5" lengthAdjust="spacingAndGlyphs">8.0</text>
<text x="388.5" y="490.6" font-size="5.6" fill="#00ffff" stroke="#00ffff" stroke-width="0.6" font-weight="bold" textLength="5" lengthAdjust="spacingAndGlyphs">33</text>
<text x="388.5" y="490.6" font-size="5.6" fill="#00ffff" stroke="#00ffff" stroke-width="0.6" font-weight="bold" textLength="5" lengthAdjust="spacingAndGlyphs">33</text>
<text x="442" y="490.6" font-size="5.6" fill="#00ffff" stroke="#00ffff" stroke-width="0.6" font-weight="bold" textLength="8" lengthAdjust="spacingAndGlyphs">DN50</text>
<text x="508" y="490.6" font-size="5.6" fill="#00ffff" stroke="#00ffff" stroke-width="0.7" font-weight="bold" textLength="7" lengthAdjust="spacingAndGlyphs">9.7</text>
<text x="388.5" y="496.6" font-size="5.6" fill="#00ffff" stroke="#00ffff" stroke-width="0.6" font-weight="bold" textLength="5" lengthAdjust="spacingAndGlyphs">32</text>
<text x="388.5" y="496.6" font-size="5.6" fill="#00ffff" stroke="#00ffff" stroke-width="0.6" font-weight="bold" textLength="5" lengthAdjust="spacingAndGlyphs">32</text>
<text x="398" y="496.6" font-size="5.6" fill="#00ffff" stroke="#00ffff" stroke-width="0.6" font-weight="bold" textLength="27" lengthAdjust="spacingAndGlyphs">GB/T8163-87</text>
<text x="426" y="496.6" font-size="5.6" fill="#00ffff" stroke="#00ffff" stroke-width="0.6" font-weight="bold" textLength="26" lengthAdjust="spacingAndGlyphs">DN2200×12</text>
<text x="478" y="496.6" font-size="5.6" fill="#00ffff" stroke="#00ffff" stroke-width="0.7" font-weight="bold" textLength="10" lengthAdjust="spacingAndGlyphs">16MnR</text>
<text x="509" y="496.6" font-size="5.6" fill="#00ffff" stroke="#00ffff" stroke-width="0.7" font-weight="bold" textLength="5" lengthAdjust="spacingAndGlyphs">11.4</text>
<text x="388.5" y="501.6" font-size="5.6" fill="#00ffff" stroke="#00ffff" stroke-width="0.6" font-weight="bold" textLength="5" lengthAdjust="spacingAndGlyphs">31</text>
<text x="388.5" y="501.6" font-size="5.6" fill="#00ffff" stroke="#00ffff" stroke-width="0.6" font-weight="bold" textLength="5" lengthAdjust="spacingAndGlyphs">31</text>
<text x="400" y="501.6" font-size="5.6" fill="#00ffff" stroke="#00ffff" stroke-width="0.6" font-weight="bold" textLength="24" lengthAdjust="spacingAndGlyphs">HG20592-97</text>
<text x="426" y="501.6" font-size="5.6" fill="#00ffff" stroke="#00ffff" stroke-width="0.6" font-weight="bold" textLength="26" lengthAdjust="spacingAndGlyphs">dN450×12-A</text>
<text x="478" y="501.6" font-size="5.6" fill="#00ffff" stroke="#00ffff" stroke-width="0.7" font-weight="bold" textLength="6" lengthAdjust="spacingAndGlyphs">20</text>
<text x="509" y="501.6" font-size="5.6" fill="#00ffff" stroke="#00ffff" stroke-width="0.7" font-weight="bold" textLength="5" lengthAdjust="spacingAndGlyphs">13.1</text>
<text x="388.5" y="507.6" font-size="5.6" fill="#00ffff" stroke="#00ffff" stroke-width="0.6" font-weight="bold" textLength="5" lengthAdjust="spacingAndGlyphs">30</text>
<text x="388.5" y="507.6" font-size="5.6" fill="#00ffff" stroke="#00ffff" stroke-width="0.6" font-weight="bold" textLength="5" lengthAdjust="spacingAndGlyphs">30</text>
<text x="399" y="507.6" font-size="5.6" fill="#00ffff" stroke="#00ffff" stroke-width="0.6" font-weight="bold" textLength="24" lengthAdjust="spacingAndGlyphs">JB/T4746-2002</text>
<text x="508" y="507.6" font-size="5.6" fill="#00ffff" stroke="#00ffff" stroke-width="0.7" font-weight="bold" textLength="7" lengthAdjust="spacingAndGlyphs">14.8</text>
<text x="517" y="507.6" font-size="5.6" fill="#00ffff" stroke="#00ffff" stroke-width="0.7" font-weight="bold" textLength="13" lengthAdjust="spacingAndGlyphs">L=230</text>
<text x="388.5" y="513.6" font-size="5.6" fill="#00ffff" stroke="#00ffff" stroke-width="0.6" font-weight="bold" textLength="5" lengthAdjust="spacingAndGlyphs">29</text>
<text x="388.5" y="513.6" font-size="5.6" fill="#00ffff" stroke="#00ffff" stroke-width="0.6" font-weight="bold" textLength="5" lengthAdjust="spacingAndGlyphs">29</text>
<text x="397" y="513.6" font-size="5.6" fill="#00ffff" stroke="#00ffff" stroke-width="0.6" font-weight="bold" textLength="28" lengthAdjust="spacingAndGlyphs">HG20592-97</text>
<text x="426" y="513.6" font-size="5.6" fill="#00ffff" stroke="#00ffff" stroke-width="0.6" font-weight="bold" textLength="24" lengthAdjust="spacingAndGlyphs">PL50-1.0RF</text>
<text x="477" y="513.6" font-size="5.6" fill="#00ffff" stroke="#00ffff" stroke-width="0.7" font-weight="bold" textLength="12" lengthAdjust="spacingAndGlyphs">16MnR</text>
<text x="508" y="513.6" font-size="5.6" fill="#00ffff" stroke="#00ffff" stroke-width="0.7" font-weight="bold" textLength="3" lengthAdjust="spacingAndGlyphs">16.5</text>
<text x="388.5" y="518.6" font-size="5.6" fill="#00ffff" stroke="#00ffff" stroke-width="0.6" font-weight="bold" textLength="5" lengthAdjust="spacingAndGlyphs">28</text>
<text x="388.5" y="518.6" font-size="5.6" fill="#00ffff" stroke="#00ffff" stroke-width="0.6" font-weight="bold" textLength="5" lengthAdjust="spacingAndGlyphs">28</text>
<text x="426" y="518.6" font-size="5.6" fill="#00ffff" stroke="#00ffff" stroke-width="0.6" font-weight="bold" textLength="26" lengthAdjust="spacingAndGlyphs">DN2200×12</text>
<text x="478" y="518.6" font-size="5.6" fill="#00ffff" stroke="#00ffff" stroke-width="0.7" font-weight="bold" textLength="11" lengthAdjust="spacingAndGlyphs">Q235-A</text>
<text x="508" y="518.6" font-size="5.6" fill="#00ffff" stroke="#00ffff" stroke-width="0.7" font-weight="bold" textLength="7" lengthAdjust="spacingAndGlyphs">18.2</text>
<text x="517" y="518.6" font-size="5.6" fill="#00ffff" stroke="#00ffff" stroke-width="0.7" font-weight="bold" textLength="15" lengthAdjust="spacingAndGlyphs">L=250</text>
<text x="388.5" y="524.6" font-size="5.6" fill="#00ffff" stroke="#00ffff" stroke-width="0.6" font-weight="bold" textLength="5" lengthAdjust="spacingAndGlyphs">27</text>
<text x="388.5" y="524.6" font-size="5.6" fill="#00ffff" stroke="#00ffff" stroke-width="0.6" font-weight="bold" textLength="5" lengthAdjust="spacingAndGlyphs">27</text>
<text x="432" y="524.6" font-size="5.6" fill="#00ffff" stroke="#00ffff" stroke-width="0.6" font-weight="bold" textLength="27" lengthAdjust="spacingAndGlyphs">Φ219×6 L=200</text>
<text x="478" y="524.6" font-size="5.6" fill="#00ffff" stroke="#00ffff" stroke-width="0.7" font-weight="bold" textLength="10" lengthAdjust="spacingAndGlyphs">Q235-A</text>
<text x="509" y="524.6" font-size="5.6" fill="#00ffff" stroke="#00ffff" stroke-width="0.7" font-weight="bold" textLength="5" lengthAdjust="spacingAndGlyphs">19.9</text>
<text x="388.5" y="529.6" font-size="5.6" fill="#00ffff" stroke="#00ffff" stroke-width="0.6" font-weight="bold" textLength="5" lengthAdjust="spacingAndGlyphs">26</text>
<text x="388.5" y="529.6" font-size="5.6" fill="#00ffff" stroke="#00ffff" stroke-width="0.6" font-weight="bold" textLength="5" lengthAdjust="spacingAndGlyphs">26</text>
<text x="426" y="529.6" font-size="5.6" fill="#00ffff" stroke="#00ffff" stroke-width="0.6" font-weight="bold" textLength="26" lengthAdjust="spacingAndGlyphs">EHA2200×12</text>
<text x="478" y="529.6" font-size="5.6" fill="#00ffff" stroke="#00ffff" stroke-width="0.7" font-weight="bold" textLength="11" lengthAdjust="spacingAndGlyphs">16MnR</text>
<text x="508" y="529.6" font-size="5.6" fill="#00ffff" stroke="#00ffff" stroke-width="0.7" font-weight="bold" textLength="2" lengthAdjust="spacingAndGlyphs">21.6</text>
<text x="516" y="529.6" font-size="5.6" fill="#00ffff" stroke="#00ffff" stroke-width="0.7" font-weight="bold" textLength="17" lengthAdjust="spacingAndGlyphs">L=270</text>
<text x="388.5" y="535.6" font-size="5.6" fill="#00ffff" stroke="#00ffff" stroke-width="0.6" font-weight="bold" textLength="5" lengthAdjust="spacingAndGlyphs">25</text>
<text x="388.5" y="535.6" font-size="5.6" fill="#00ffff" stroke="#00ffff" stroke-width="0.6" font-weight="bold" textLength="5" lengthAdjust="spacingAndGlyphs">25</text>
<text x="398" y="535.6" font-size="5.6" fill="#00ffff" stroke="#00ffff" stroke-width="0.6" font-weight="bold" textLength="27" lengthAdjust="spacingAndGlyphs">HG21515-95</text>
<text x="426" y="535.6" font-size="5.6" fill="#00ffff" stroke="#00ffff" stroke-width="0.6" font-weight="bold" textLength="26" lengthAdjust="spacingAndGlyphs">PL50-1.0RF</text>
<text x="478" y="535.6" font-size="5.6" fill="#00ffff" stroke="#00ffff" stroke-width="0.7" font-weight="bold" textLength="11" lengthAdjust="spacingAndGlyphs">Q235-A</text>
<text x="500" y="535.6" font-size="5.6" fill="#00ffff" stroke="#00ffff" stroke-width="0.7" font-weight="bold" textLength="7" lengthAdjust="spacingAndGlyphs">5.0</text>
<text x="508" y="535.6" font-size="5.6" fill="#00ffff" stroke="#00ffff" stroke-width="0.7" font-weight="bold" textLength="6" lengthAdjust="spacingAndGlyphs">23.3</text>
<text x="388.5" y="541.6" font-size="5.6" fill="#00ffff" stroke="#00ffff" stroke-width="0.6" font-weight="bold" textLength="5" lengthAdjust="spacingAndGlyphs">24</text>
<text x="388.5" y="541.6" font-size="5.6" fill="#00ffff" stroke="#00ffff" stroke-width="0.6" font-weight="bold" textLength="5" lengthAdjust="spacingAndGlyphs">24</text>
<text x="398" y="541.6" font-size="5.6" fill="#00ffff" stroke="#00ffff" stroke-width="0.6" font-weight="bold" textLength="27" lengthAdjust="spacingAndGlyphs">GB/T8163-87</text>
<text x="426" y="541.6" font-size="5.6" fill="#00ffff" stroke="#00ffff" stroke-width="0.6" font-weight="bold" textLength="41" lengthAdjust="spacingAndGlyphs">HG20592-97 PL50-1.0RF</text>
<text x="501" y="541.6" font-size="5.6" fill="#00ffff" stroke="#00ffff" stroke-width="0.7" font-weight="bold" textLength="5" lengthAdjust="spacingAndGlyphs">5.3</text>
<text x="509" y="541.6" font-size="5.6" fill="#00ffff" stroke="#00ffff" stroke-width="0.7" font-weight="bold" textLength="5" lengthAdjust="spacingAndGlyphs">25.0</text>
<text x="388.5" y="546.6" font-size="5.6" fill="#00ffff" stroke="#00ffff" stroke-width="0.6" font-weight="bold" textLength="5" lengthAdjust="spacingAndGlyphs">23</text>
<text x="388.5" y="546.6" font-size="5.6" fill="#00ffff" stroke="#00ffff" stroke-width="0.6" font-weight="bold" textLength="5" lengthAdjust="spacingAndGlyphs">23</text>
<text x="434" y="546.6" font-size="5.6" fill="#00ffff" stroke="#00ffff" stroke-width="0.6" font-weight="bold" textLength="16" lengthAdjust="spacingAndGlyphs">PL50-RF</text>
<text x="477" y="546.6" font-size="5.6" fill="#00ffff" stroke="#00ffff" stroke-width="0.7" font-weight="bold" textLength="14" lengthAdjust="spacingAndGlyphs">16MnR</text>
<text x="499" y="546.6" font-size="5.6" fill="#00ffff" stroke="#00ffff" stroke-width="0.7" font-weight="bold" textLength="7" lengthAdjust="spacingAndGlyphs">5.7</text>
<text x="509" y="546.6" font-size="5.6" fill="#00ffff" stroke="#00ffff" stroke-width="0.7" font-weight="bold" textLength="5" lengthAdjust="spacingAndGlyphs">26.7</text>
<text x="517" y="546.6" font-size="5.6" fill="#00ffff" stroke="#00ffff" stroke-width="0.7" font-weight="bold" textLength="13" lengthAdjust="spacingAndGlyphs">L=300</text>
<text x="388.5" y="552.6" font-size="5.6" fill="#00ffff" stroke="#00ffff" stroke-width="0.6" font-weight="bold" textLength="5" lengthAdjust="spacingAndGlyphs">22</text>
<text x="388.5" y="552.6" font-size="5.6" fill="#00ffff" stroke="#00ffff" stroke-width="0.6" font-weight="bold" textLength="5" lengthAdjust="spacingAndGlyphs">22</text>
<text x="400" y="552.6" font-size="5.6" fill="#00ffff" stroke="#00ffff" stroke-width="0.6" font-weight="bold" textLength="24" lengthAdjust="spacingAndGlyphs">JB/T4746-2002</text>
<text x="426" y="552.6" font-size="5.6" fill="#00ffff" stroke="#00ffff" stroke-width="0.6" font-weight="bold" textLength="26" lengthAdjust="spacingAndGlyphs">EHA2200×12</text>
<text x="478" y="552.6" font-size="5.6" fill="#00ffff" stroke="#00ffff" stroke-width="0.7" font-weight="bold" textLength="6" lengthAdjust="spacingAndGlyphs">20</text>
<text x="500" y="552.6" font-size="5.6" fill="#00ffff" stroke="#00ffff" stroke-width="0.7" font-weight="bold" textLength="6" lengthAdjust="spacingAndGlyphs">6.0</text>
<text x="508" y="552.6" font-size="5.6" fill="#00ffff" stroke="#00ffff" stroke-width="0.7" font-weight="bold" textLength="7" lengthAdjust="spacingAndGlyphs">28.4</text>
<text x="388.5" y="558.6" font-size="5.6" fill="#00ffff" stroke="#00ffff" stroke-width="0.6" font-weight="bold" textLength="5" lengthAdjust="spacingAndGlyphs">21</text>
<text x="388.5" y="558.6" font-size="5.6" fill="#00ffff" stroke="#00ffff" stroke-width="0.6" font-weight="bold" textLength="5" lengthAdjust="spacingAndGlyphs">21</text>
<text x="399" y="558.6" font-size="5.6" fill="#00ffff" stroke="#00ffff" stroke-width="0.6" font-weight="bold" textLength="24" lengthAdjust="spacingAndGlyphs">HG20592-97</text>
<text x="431" y="558.6" font-size="5.6" fill="#00ffff" stroke="#00ffff" stroke-width="0.6" font-weight="bold" textLength="29" lengthAdjust="spacingAndGlyphs">Φ89×4 L=200</text>
<text x="478" y="558.6" font-size="5.6" fill="#00ffff" stroke="#00ffff" stroke-width="0.7" font-weight="bold" textLength="6" lengthAdjust="spacingAndGlyphs">20</text>
<text x="500" y="558.6" font-size="5.6" fill="#00ffff" stroke="#00ffff" stroke-width="0.7" font-weight="bold" textLength="6" lengthAdjust="spacingAndGlyphs">6.3</text>
<text x="509" y="558.6" font-size="5.6" fill="#00ffff" stroke="#00ffff" stroke-width="0.7" font-weight="bold" textLength="5" lengthAdjust="spacingAndGlyphs">30.1</text>
<text x="388.5" y="563.6" font-size="5.6" fill="#00ffff" stroke="#00ffff" stroke-width="0.6" font-weight="bold" textLength="5" lengthAdjust="spacingAndGlyphs">20</text>
<text x="388.5" y="563.6" font-size="5.6" fill="#00ffff" stroke="#00ffff" stroke-width="0.6" font-weight="bold" textLength="5" lengthAdjust="spacingAndGlyphs">20</text>
<text x="401" y="563.6" font-size="5.6" fill="#00ffff" stroke="#00ffff" stroke-width="0.6" font-weight="bold" textLength="23" lengthAdjust="spacingAndGlyphs">GB/T8163-87</text>
<text x="431" y="563.6" font-size="5.6" fill="#00ffff" stroke="#00ffff" stroke-width="0.6" font-weight="bold" textLength="19" lengthAdjust="spacingAndGlyphs">PL50-RF</text>
<text x="478" y="563.6" font-size="5.6" fill="#00ffff" stroke="#00ffff" stroke-width="0.7" font-weight="bold" textLength="6" lengthAdjust="spacingAndGlyphs">20</text>
<text x="500" y="563.6" font-size="5.6" fill="#00ffff" stroke="#00ffff" stroke-width="0.7" font-weight="bold" textLength="6" lengthAdjust="spacingAndGlyphs">6.6</text>
<text x="508" y="563.6" font-size="5.6" fill="#00ffff" stroke="#00ffff" stroke-width="0.7" font-weight="bold" textLength="7" lengthAdjust="spacingAndGlyphs">31.8</text>
<text x="388.5" y="569.6" font-size="5.6" fill="#00ffff" stroke="#00ffff" stroke-width="0.6" font-weight="bold" textLength="5" lengthAdjust="spacingAndGlyphs">19</text>
<text x="388.5" y="569.6" font-size="5.6" fill="#00ffff" stroke="#00ffff" stroke-width="0.6" font-weight="bold" textLength="5" lengthAdjust="spacingAndGlyphs">19</text>
<text x="399" y="569.6" font-size="5.6" fill="#00ffff" stroke="#00ffff" stroke-width="0.6" font-weight="bold" textLength="24" lengthAdjust="spacingAndGlyphs">JB/T4736-2002</text>
<text x="431" y="569.6" font-size="5.6" fill="#00ffff" stroke="#00ffff" stroke-width="0.6" font-weight="bold" textLength="29" lengthAdjust="spacingAndGlyphs">Φ219×6 L=200</text>
<text x="478" y="569.6" font-size="5.6" fill="#00ffff" stroke="#00ffff" stroke-width="0.7" font-weight="bold" textLength="5" lengthAdjust="spacingAndGlyphs">20</text>
<text x="500" y="569.6" font-size="5.6" fill="#00ffff" stroke="#00ffff" stroke-width="0.7" font-weight="bold" textLength="6" lengthAdjust="spacingAndGlyphs">7.0</text>
<text x="509" y="569.6" font-size="5.6" fill="#00ffff" stroke="#00ffff" stroke-width="0.7" font-weight="bold" textLength="5" lengthAdjust="spacingAndGlyphs">33.5</text>
<text x="388.5" y="575.6" font-size="5.6" fill="#00ffff" stroke="#00ffff" stroke-width="0.6" font-weight="bold" textLength="5" lengthAdjust="spacingAndGlyphs">18</text>
<text x="388.5" y="575.6" font-size="5.6" fill="#00ffff" stroke="#00ffff" stroke-width="0.6" font-weight="bold" textLength="5" lengthAdjust="spacingAndGlyphs">18</text>
<text x="426" y="575.6" font-size="5.6" fill="#00ffff" stroke="#00ffff" stroke-width="0.6" font-weight="bold" textLength="26" lengthAdjust="spacingAndGlyphs">EHA2200×12</text>
<text x="478" y="575.6" font-size="5.6" fill="#00ffff" stroke="#00ffff" stroke-width="0.7" font-weight="bold" textLength="11" lengthAdjust="spacingAndGlyphs">Q235-A</text>
<text x="508" y="575.6" font-size="5.6" fill="#00ffff" stroke="#00ffff" stroke-width="0.7" font-weight="bold" textLength="7" lengthAdjust="spacingAndGlyphs">35.2</text>
<text x="516" y="575.6" font-size="5.6" fill="#00ffff" stroke="#00ffff" stroke-width="0.7" font-weight="bold" textLength="15" lengthAdjust="spacingAndGlyphs">L=350</text>
<text x="388.5" y="580.6" font-size="5.6" fill="#00ffff" stroke="#00ffff" stroke-width="0.6" font-weight="bold" textLength="5" lengthAdjust="spacingAndGlyphs">17</text>
<text x="388.5" y="580.6" font-size="5.6" fill="#00ffff" stroke="#00ffff" stroke-width="0.6" font-weight="bold" textLength="5" lengthAdjust="spacingAndGlyphs">17</text>
<text x="398" y="580.6" font-size="5.6" fill="#00ffff" stroke="#00ffff" stroke-width="0.6" font-weight="bold" textLength="27" lengthAdjust="spacingAndGlyphs">HG21515-95</text>
<text x="426" y="580.6" font-size="5.6" fill="#00ffff" stroke="#00ffff" stroke-width="0.6" font-weight="bold" textLength="26" lengthAdjust="spacingAndGlyphs">PL50-1.0RF</text>
<text x="478" y="580.6" font-size="5.6" fill="#00ffff" stroke="#00ffff" stroke-width="0.7" font-weight="bold" textLength="11" lengthAdjust="spacingAndGlyphs">16MnR</text>
<text x="499" y="580.6" font-size="5.6" fill="#00ffff" stroke="#00ffff" stroke-width="0.7" font-weight="bold" textLength="4" lengthAdjust="spacingAndGlyphs">7.6</text>
<text x="509" y="580.6" font-size="5.6" fill="#00ffff" stroke="#00ffff" stroke-width="0.7" font-weight="bold" textLength="5" lengthAdjust="spacingAndGlyphs">36.9</text>
<text x="388.5" y="586.6" font-size="5.6" fill="#00ffff" stroke="#00ffff" stroke-width="0.6" font-weight="bold" textLength="5" lengthAdjust="spacingAndGlyphs">16</text>
<text x="388.5" y="586.6" font-size="5.6" fill="#00ffff" stroke="#00ffff" stroke-width="0.6" font-weight="bold" textLength="5" lengthAdjust="spacingAndGlyphs">16</text>
<text x="398" y="586.6" font-size="5.6" fill="#00ffff" stroke="#00ffff" stroke-width="0.6" font-weight="bold" textLength="27" lengthAdjust="spacingAndGlyphs">GB/T8163-87</text>
<text x="426" y="586.6" font-size="5.6" fill="#00ffff" stroke="#00ffff" stroke-width="0.6" font-weight="bold" textLength="25" lengthAdjust="spacingAndGlyphs">DN2200×12</text>
<text x="478" y="586.6" font-size="5.6" fill="#00ffff" stroke="#00ffff" stroke-width="0.7" font-weight="bold" textLength="11" lengthAdjust="spacingAndGlyphs">Q235-A</text>
<text x="499" y="586.6" font-size="5.6" fill="#00ffff" stroke="#00ffff" stroke-width="0.7" font-weight="bold" textLength="4" lengthAdjust="spacingAndGlyphs">8.0</text>
<text x="508" y="586.6" font-size="5.6" fill="#00ffff" stroke="#00ffff" stroke-width="0.7" font-weight="bold" textLength="4" lengthAdjust="spacingAndGlyphs">38.6</text>
<text x="388.5" y="592.6" font-size="5.6" fill="#00ffff" stroke="#00ffff" stroke-width="0.6" font-weight="bold" textLength="5" lengthAdjust="spacingAndGlyphs">15</text>
<text x="388.5" y="592.6" font-size="5.6" fill="#00ffff" stroke="#00ffff" stroke-width="0.6" font-weight="bold" textLength="5" lengthAdjust="spacingAndGlyphs">15</text>
<text x="426" y="592.6" font-size="5.6" fill="#00ffff" stroke="#00ffff" stroke-width="0.6" font-weight="bold" textLength="24" lengthAdjust="spacingAndGlyphs">dN450×12-A</text>
<text x="478" y="592.6" font-size="5.6" fill="#00ffff" stroke="#00ffff" stroke-width="0.7" font-weight="bold" textLength="11" lengthAdjust="spacingAndGlyphs">Q235-A</text>
<text x="509" y="592.6" font-size="5.6" fill="#00ffff" stroke="#00ffff" stroke-width="0.7" font-weight="bold" textLength="5" lengthAdjust="spacingAndGlyphs">40.3</text>
<text x="517" y="592.6" font-size="5.6" fill="#00ffff" stroke="#00ffff" stroke-width="0.7" font-weight="bold" textLength="14" lengthAdjust="spacingAndGlyphs">L=380</text>
<text x="388.5" y="597.6" font-size="5.6" fill="#00ffff" stroke="#00ffff" stroke-width="0.6" font-weight="bold" textLength="5" lengthAdjust="spacingAndGlyphs">14</text>
<text x="388.5" y="597.6" font-size="5.6" fill="#00ffff" stroke="#00ffff" stroke-width="0.6" font-weight="bold" textLength="5" lengthAdjust="spacingAndGlyphs">14</text>
<text x="478" y="597.6" font-size="5.6" fill="#00ffff" stroke="#00ffff" stroke-width="0.7" font-weight="bold" textLength="11" lengthAdjust="spacingAndGlyphs">16MnR</text>
<text x="499" y="597.6" font-size="5.6" fill="#00ffff" stroke="#00ffff" stroke-width="0.7" font-weight="bold" textLength="5" lengthAdjust="spacingAndGlyphs">8.6</text>
<text x="509" y="597.6" font-size="5.6" fill="#00ffff" stroke="#00ffff" stroke-width="0.7" font-weight="bold" textLength="5" lengthAdjust="spacingAndGlyphs">42.0</text>
<text x="388.5" y="603.6" font-size="5.6" fill="#00ffff" stroke="#00ffff" stroke-width="0.6" font-weight="bold" textLength="5" lengthAdjust="spacingAndGlyphs">13</text>
<text x="388.5" y="603.6" font-size="5.6" fill="#00ffff" stroke="#00ffff" stroke-width="0.6" font-weight="bold" textLength="5" lengthAdjust="spacingAndGlyphs">13</text>
<text x="398" y="603.6" font-size="5.6" fill="#00ffff" stroke="#00ffff" stroke-width="0.6" font-weight="bold" textLength="27" lengthAdjust="spacingAndGlyphs">HG20592-97</text>
<text x="426" y="603.6" font-size="5.6" fill="#00ffff" stroke="#00ffff" stroke-width="0.6" font-weight="bold" textLength="23" lengthAdjust="spacingAndGlyphs">PL50-1.0RF</text>
<text x="478" y="603.6" font-size="5.6" fill="#00ffff" stroke="#00ffff" stroke-width="0.7" font-weight="bold" textLength="11" lengthAdjust="spacingAndGlyphs">Q235-A</text>
<text x="509" y="603.6" font-size="5.6" fill="#00ffff" stroke="#00ffff" stroke-width="0.7" font-weight="bold" textLength="5" lengthAdjust="spacingAndGlyphs">43.7</text>
<text x="388.5" y="609.6" font-size="5.6" fill="#00ffff" stroke="#00ffff" stroke-width="0.6" font-weight="bold" textLength="5" lengthAdjust="spacingAndGlyphs">12</text>
<text x="388.5" y="609.6" font-size="5.6" fill="#00ffff" stroke="#00ffff" stroke-width="0.6" font-weight="bold" textLength="5" lengthAdjust="spacingAndGlyphs">12</text>
<text x="400" y="609.6" font-size="5.6" fill="#00ffff" stroke="#00ffff" stroke-width="0.6" font-weight="bold" textLength="24" lengthAdjust="spacingAndGlyphs">GB/T8163-87</text>
<text x="426" y="609.6" font-size="5.6" fill="#00ffff" stroke="#00ffff" stroke-width="0.6" font-weight="bold" textLength="24" lengthAdjust="spacingAndGlyphs">DN2200×12</text>
<text x="478" y="609.6" font-size="5.6" fill="#00ffff" stroke="#00ffff" stroke-width="0.7" font-weight="bold" textLength="6" lengthAdjust="spacingAndGlyphs">20</text>
<text x="509" y="609.6" font-size="5.6" fill="#00ffff" stroke="#00ffff" stroke-width="0.7" font-weight="bold" textLength="4" lengthAdjust="spacingAndGlyphs">45.4</text>
<text x="388.5" y="614.6" font-size="5.6" fill="#00ffff" stroke="#00ffff" stroke-width="0.6" font-weight="bold" textLength="5" lengthAdjust="spacingAndGlyphs">11</text>
<text x="388.5" y="614.6" font-size="5.6" fill="#00ffff" stroke="#00ffff" stroke-width="0.6" font-weight="bold" textLength="5" lengthAdjust="spacingAndGlyphs">11</text>
<text x="399" y="614.6" font-size="5.6" fill="#00ffff" stroke="#00ffff" stroke-width="0.6" font-weight="bold" textLength="24" lengthAdjust="spacingAndGlyphs">JB/T4736-2002</text>
<text x="431" y="614.6" font-size="5.6" fill="#00ffff" stroke="#00ffff" stroke-width="0.6" font-weight="bold" textLength="29" lengthAdjust="spacingAndGlyphs">Φ219×6 L=200</text>
<text x="478" y="614.6" font-size="5.6" fill="#00ffff" stroke="#00ffff" stroke-width="0.7" font-weight="bold" textLength="5" lengthAdjust="spacingAndGlyphs">20</text>
<text x="509" y="614.6" font-size="5.6" fill="#00ffff" stroke="#00ffff" stroke-width="0.7" font-weight="bold" textLength="4" lengthAdjust="spacingAndGlyphs">47.1</text>
<text x="388.5" y="620.6" font-size="5.6" fill="#00ffff" stroke="#00ffff" stroke-width="0.6" font-weight="bold" textLength="5" lengthAdjust="spacingAndGlyphs">10</text>
<text x="388.5" y="620.6" font-size="5.6" fill="#00ffff" stroke="#00ffff" stroke-width="0.6" font-weight="bold" textLength="5" lengthAdjust="spacingAndGlyphs">10</text>
<text x="397" y="620.6" font-size="5.6" fill="#00ffff" stroke="#00ffff" stroke-width="0.6" font-weight="bold" textLength="28" lengthAdjust="spacingAndGlyphs">HG20594-97</text>
<text x="426" y="620.6" font-size="5.6" fill="#00ffff" stroke="#00ffff" stroke-width="0.6" font-weight="bold" textLength="23" lengthAdjust="spacingAndGlyphs">EHA2200×12</text>
<text x="477" y="620.6" font-size="5.6" fill="#00ffff" stroke="#00ffff" stroke-width="0.7" font-weight="bold" textLength="12" lengthAdjust="spacingAndGlyphs">Q235-A</text>
<text x="508" y="620.6" font-size="5.6" fill="#00ffff" stroke="#00ffff" stroke-width="0.7" font-weight="bold" textLength="6" lengthAdjust="spacingAndGlyphs">48.8</text>
<text x="388.5" y="625.6" font-size="5.6" fill="#00ffff" stroke="#00ffff" stroke-width="0.6" font-weight="bold" textLength="5" lengthAdjust="spacingAndGlyphs">9</text>
<text x="388.5" y="625.6" font-size="5.6" fill="#00ffff" stroke="#00ffff" stroke-width="0.6" font-weight="bold" textLength="5" lengthAdjust="spacingAndGlyphs">9</text>
<text x="398" y="625.6" font-size="5.6" fill="#00ffff" stroke="#00ffff" stroke-width="0.6" font-weight="bold" textLength="27" lengthAdjust="spacingAndGlyphs">HG21515-95</text>
<text x="426" y="625.6" font-size="5.6" fill="#00ffff" stroke="#00ffff" stroke-width="0.6" font-weight="bold" textLength="26" lengthAdjust="spacingAndGlyphs">PL50-1.0RF</text>
<text x="478" y="625.6" font-size="5.6" fill="#00ffff" stroke="#00ffff" stroke-width="0.7" font-weight="bold" textLength="11" lengthAdjust="spacingAndGlyphs">Q235-A</text>
<text x="499" y="625.6" font-size="5.6" fill="#00ffff" stroke="#00ffff" stroke-width="0.7" font-weight="bold" textLength="8" lengthAdjust="spacingAndGlyphs">10.3</text>
<text x="508" y="625.6" font-size="5.6" fill="#00ffff" stroke="#00ffff" stroke-width="0.7" font-weight="bold" textLength="6" lengthAdjust="spacingAndGlyphs">50.5</text>
<text x="388.5" y="631.6" font-size="5.6" fill="#00ffff" stroke="#00ffff" stroke-width="0.6" font-weight="bold" textLength="5" lengthAdjust="spacingAndGlyphs">8</text>
<text x="388.5" y="631.6" font-size="5.6" fill="#00ffff" stroke="#00ffff" stroke-width="0.6" font-weight="bold" textLength="5" lengthAdjust="spacingAndGlyphs">8</text>
<text x="400" y="631.6" font-size="5.6" fill="#00ffff" stroke="#00ffff" stroke-width="0.6" font-weight="bold" textLength="24" lengthAdjust="spacingAndGlyphs">GB/T8163-87</text>
<text x="426" y="631.6" font-size="5.6" fill="#00ffff" stroke="#00ffff" stroke-width="0.6" font-weight="bold" textLength="26" lengthAdjust="spacingAndGlyphs">DN2200×12</text>
<text x="478" y="631.6" font-size="5.6" fill="#00ffff" stroke="#00ffff" stroke-width="0.7" font-weight="bold" textLength="6" lengthAdjust="spacingAndGlyphs">20</text>
<text x="499" y="631.6" font-size="5.6" fill="#00ffff" stroke="#00ffff" stroke-width="0.7" font-weight="bold" textLength="8" lengthAdjust="spacingAndGlyphs">10.6</text>
<text x="508" y="631.6" font-size="5.6" fill="#00ffff" stroke="#00ffff" stroke-width="0.7" font-weight="bold" textLength="7" lengthAdjust="spacingAndGlyphs">52.2</text>
<text x="388.5" y="637.6" font-size="5.6" fill="#00ffff" stroke="#00ffff" stroke-width="0.6" font-weight="bold" textLength="5" lengthAdjust="spacingAndGlyphs">7</text>
<text x="388.5" y="637.6" font-size="5.6" fill="#00ffff" stroke="#00ffff" stroke-width="0.6" font-weight="bold" textLength="5" lengthAdjust="spacingAndGlyphs">7</text>
<text x="431" y="637.6" font-size="5.6" fill="#00ffff" stroke="#00ffff" stroke-width="0.6" font-weight="bold" textLength="30" lengthAdjust="spacingAndGlyphs">Φ219×6 L=200</text>
<text x="478" y="637.6" font-size="5.6" fill="#00ffff" stroke="#00ffff" stroke-width="0.7" font-weight="bold" textLength="11" lengthAdjust="spacingAndGlyphs">Q235-A</text>
<text x="510" y="637.6" font-size="5.6" fill="#00ffff" stroke="#00ffff" stroke-width="0.7" font-weight="bold" textLength="3" lengthAdjust="spacingAndGlyphs">53.9</text>
</g>
</svg>
</body></html>
